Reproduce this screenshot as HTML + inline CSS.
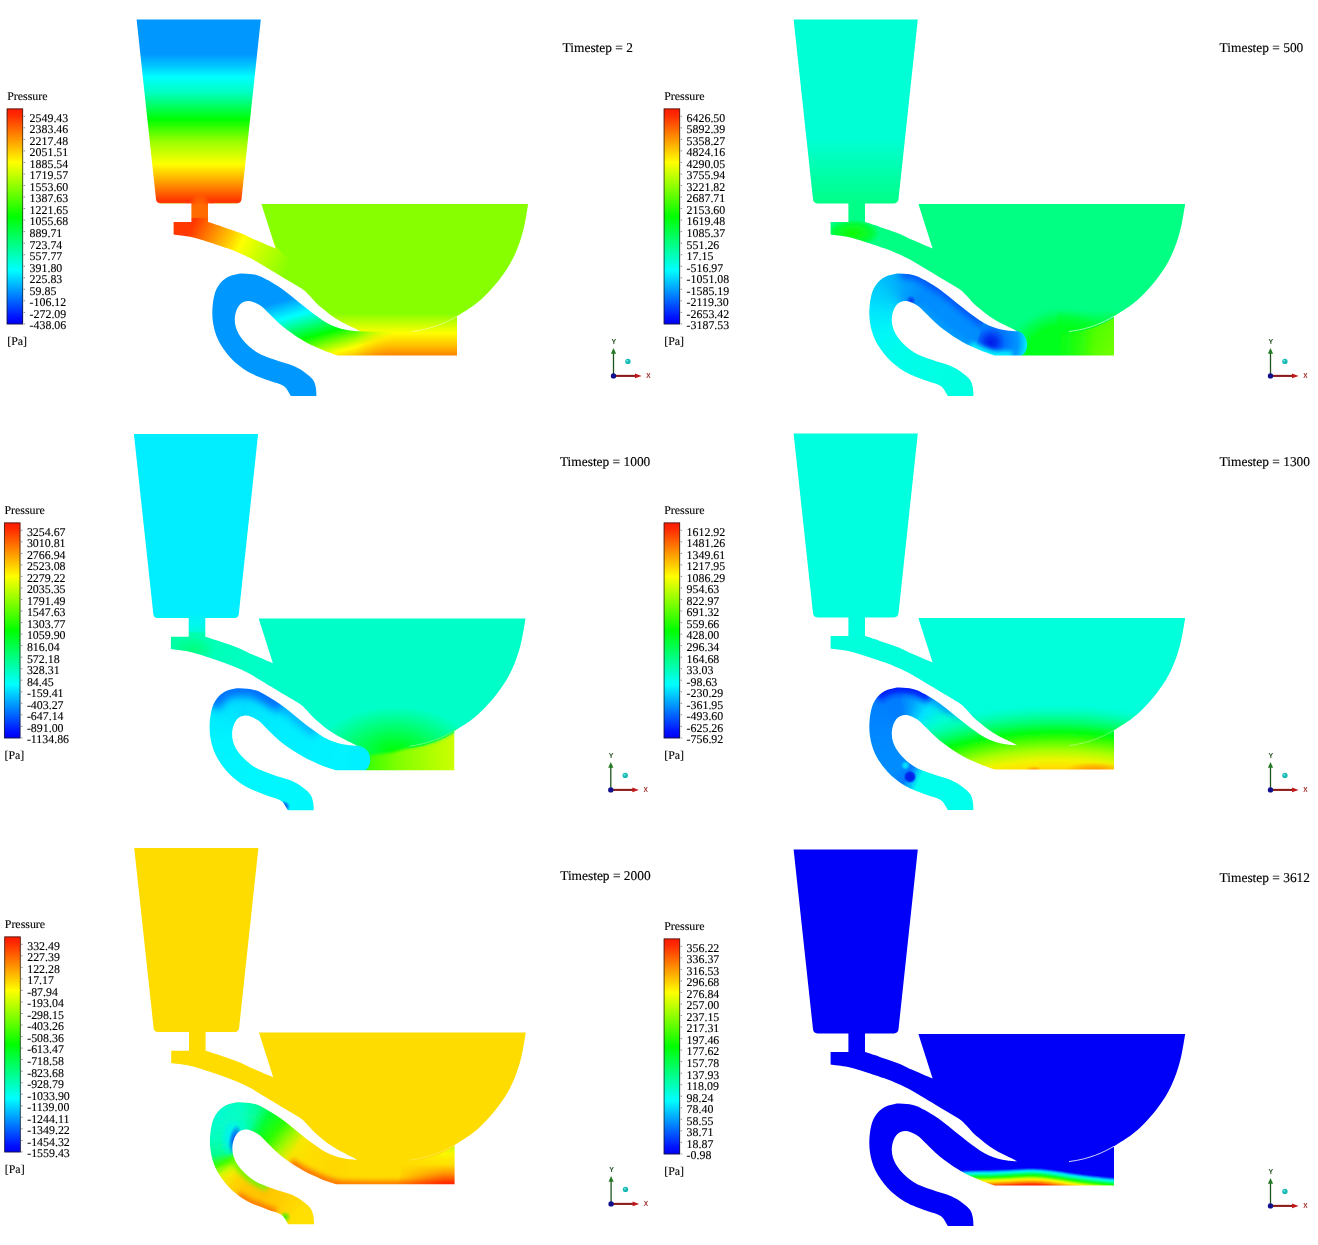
<!DOCTYPE html>
<html lang="en"><head><meta charset="utf-8"><title>Pressure contours at six timesteps</title>
<style>html,body{margin:0;padding:0;background:#fff}svg{display:block}.lg{font-family:"Liberation Serif","DejaVu Serif",serif;font-size:11.9px;fill:#000;stroke:#000;stroke-width:.12px;text-rendering:geometricPrecision}.ts{font-family:"Liberation Serif","DejaVu Serif",serif;font-size:13.4px;fill:#000;stroke:#000;stroke-width:.15px;text-rendering:geometricPrecision}.ax{font-family:"Liberation Sans","DejaVu Sans",sans-serif;font-size:6.5px;font-weight:bold;text-anchor:middle}</style></head><body>
<svg width="1318" height="1245" viewBox="0 0 1318 1245">
<defs>
<clipPath id="shape"><path d="M136.6,19.5L260.8,19.5L241.5,199.3Q241,203.4 237,203.4L208,203.4L208,222.1C210.5,222.9 217.3,225 222.8,226.9C228.3,228.8 235.7,231.2 241,233.3C246.3,235.4 248.8,237.1 254.6,239.6C260.4,242.1 272.1,247.1 275.6,248.6L261.4,204L528.2,204C527.4,208.4 525.5,222 523.2,230.6C520.9,239.2 518.2,247.4 514.4,255.4C510.6,263.4 506.1,270.8 500.2,278.4C494.3,286 486.2,295 479,301.3C471.8,307.6 460.7,313.8 457,316.3L457,355.6L338.5,355.6C337.6,355.3 335.3,354.7 332.9,353.9C330.4,353.1 326.9,351.8 323.8,350.6C320.8,349.4 317.7,347.9 314.6,346.5C311.6,345.1 308.5,343.6 305.5,341.9C302.5,340.2 299.4,338.4 296.4,336.4C293.4,334.4 290.3,332.4 287.3,330.1C284.3,327.8 281.2,325.3 278.2,322.6C275.2,319.9 272.4,316.7 269.3,313.8C266.2,310.9 263,307.1 259.5,305C256,302.9 251.7,301 248.4,301C245.1,301 241.7,302.5 239.5,304.9C237.3,307.3 235.7,311.7 235.1,315.5C234.5,319.3 234.7,323.7 236,327.8C237.3,331.9 239.6,336.1 243.1,340.2C246.6,344.3 251.9,349.1 257.2,352.4C262.5,355.7 268.7,357.5 274.9,359.8C281.1,362.1 289.2,364 294.3,366.2C299.4,368.4 302.4,370.7 305.5,372.9C308.6,375.1 311.1,377.2 312.8,379.6C314.5,382 315.1,384.3 315.7,387C316.3,389.7 316.4,394.4 316.5,395.9L290.8,395.9C289.6,394.3 287.2,388.6 283.7,386.1C280.2,383.6 275.5,383.2 269.6,380.8C263.7,378.4 254.9,375.8 248.4,372C241.9,368.2 235.7,363.2 230.7,357.9C225.7,352.6 221.2,346.1 218.3,340.2C215.4,334.3 213.9,328.4 213,322.5C212.1,316.6 212.1,310.5 212.7,304.9C213.3,299.3 214.4,293.4 216.5,289C218.6,284.6 221.8,280.9 225.4,278.4C229,275.9 233.7,274.6 237.8,273.9C241.9,273.2 246.4,273.8 250,274.1C253.6,274.4 256.1,274.9 259.1,275.9C262.1,276.9 265.2,278.6 268.2,280.3C271.2,282 274.3,283.8 277.3,285.8C280.3,287.8 283.4,289.9 286.4,292.2C289.4,294.5 292.5,297 295.5,299.4C298.5,301.8 301.6,304.4 304.6,306.8C307.7,309.2 310.8,311.7 313.8,314C316.9,316.3 319.9,318.5 322.9,320.4C325.9,322.3 329,324 332,325.4C335,326.8 338.1,327.8 341.1,328.7C344.1,329.6 347,330.1 350.2,330.5C353.4,330.9 358.8,331.2 360.5,331.4C358.8,330.5 353.4,327.9 350.2,326.3C347,324.7 344.1,323.4 341.1,321.7C338.1,320 335,318.1 332,316C329,313.9 325.6,311.1 322.9,308.8C320.2,306.5 317.9,304.6 315.6,302.4C313.3,300.1 311.5,297.6 309.2,295.3C306.9,293 305.7,291.4 301.9,288.8C298.1,286.2 292,283 286.4,279.6C280.8,276.2 272.8,271.4 268.2,268.6C263.6,265.9 262,264.9 259,263.1C256,261.3 253.4,259.7 250,258C246.6,256.3 242.3,254.3 238.5,252.7C234.7,251.1 232.4,250.1 227.4,248.3C222.4,246.5 214.4,243.8 208.3,241.9C202.2,240 196.8,238.2 191,236.9C185.2,235.7 176.5,234.8 173.6,234.4L173.6,222.1L191.4,222.1L191.4,203.4L160.4,203.4Q156.4,203.4 156,199.3Z"/></clipPath>
<clipPath id="trapclip"><path d="M150,262L240,263L266,273.4L290,288.4L310,303.5L330,319.4L345,326.7L360.5,331.4L380,332L380,400L150,400Z"/></clipPath>
<linearGradient id="bar" x1="0" y1="0" x2="0" y2="1"><stop offset="0" stop-color="#ff1a00"/><stop offset="0.03" stop-color="#ff2a00"/><stop offset="0.25" stop-color="#ffff00"/><stop offset="0.5" stop-color="#00ff00"/><stop offset="0.75" stop-color="#00ffff"/><stop offset="0.97" stop-color="#0010ff"/><stop offset="1" stop-color="#0000f0"/></linearGradient>
<filter id="soft" x="-5%" y="-5%" width="110%" height="110%"><feGaussianBlur stdDeviation="0.45"/></filter>
<linearGradient id="p1t" gradientUnits="userSpaceOnUse" x1="0" y1="19" x2="0" y2="204"><stop offset="0" stop-color="#0098ff"/><stop offset="0.19" stop-color="#0098ff"/><stop offset="0.255" stop-color="#00c8ff"/><stop offset="0.315" stop-color="#00ffff"/><stop offset="0.4" stop-color="#00ffbe"/><stop offset="0.545" stop-color="#00ff00"/><stop offset="0.66" stop-color="#96ff00"/><stop offset="0.785" stop-color="#ffff00"/><stop offset="0.89" stop-color="#ff9600"/><stop offset="0.985" stop-color="#ff3200"/><stop offset="1" stop-color="#ff4600"/></linearGradient>
<radialGradient id="p1st" gradientUnits="userSpaceOnUse" cx="200" cy="205" r="11"><stop offset="0" stop-color="#ff6c00" stop-opacity="1.0"/><stop offset="0.6" stop-color="#ff6c00" stop-opacity="0.55"/><stop offset="1" stop-color="#ff6c00" stop-opacity="0"/></radialGradient>
<linearGradient id="p1f" gradientUnits="userSpaceOnUse" x1="190" y1="230" x2="282.7" y2="276.4"><stop offset="0" stop-color="#ff3700"/><stop offset="0.24" stop-color="#ff9600"/><stop offset="0.374" stop-color="#ffc800"/><stop offset="0.5" stop-color="#ffff00"/><stop offset="0.7" stop-color="#c8ff00"/><stop offset="1" stop-color="#88ff00"/></linearGradient>
<linearGradient id="p1s" gradientUnits="userSpaceOnUse" x1="0" y1="306" x2="0" y2="356"><stop offset="0" stop-color="#88ff00" stop-opacity="0"/><stop offset="0.15" stop-color="#88ff00" stop-opacity="1"/><stop offset="0.54" stop-color="#ffff00"/><stop offset="0.8" stop-color="#ffbe00"/><stop offset="1" stop-color="#ff8000"/></linearGradient>
<linearGradient id="p1g" gradientUnits="userSpaceOnUse" x1="286.5" y1="300" x2="307.7" y2="375.8"><stop offset="0" stop-color="#0098ff"/><stop offset="0.219" stop-color="#00ffff"/><stop offset="0.537" stop-color="#00ff00"/><stop offset="0.81" stop-color="#ffff00"/><stop offset="1" stop-color="#ff9600"/></linearGradient>
<linearGradient id="p1kg" gradientUnits="userSpaceOnUse" x1="356" y1="0" x2="396" y2="0"><stop offset="0" stop-color="#fff" stop-opacity="1"/><stop offset="1" stop-color="#fff" stop-opacity="0"/></linearGradient>
<mask id="p1k" maskUnits="userSpaceOnUse" x="100" y="0" width="460" height="410"><rect x="100" y="0" width="460" height="410" fill="url(#p1kg)"/></mask>
<linearGradient id="p2t" gradientUnits="userSpaceOnUse" x1="0" y1="19" x2="0" y2="204"><stop offset="0" stop-color="#00ffd5"/><stop offset="0.64" stop-color="#00ffd5"/><stop offset="0.85" stop-color="#00ffa5"/><stop offset="1" stop-color="#00ff87"/></linearGradient>
<radialGradient id="p2fl" gradientUnits="userSpaceOnUse" cx="196" cy="233" r="27" gradientTransform="translate(196 233) rotate(0) scale(1.0 0.5) translate(-196 -233)"><stop offset="0" stop-color="#0afa00" stop-opacity="1.0"/><stop offset="0.7" stop-color="#0afa00" stop-opacity="0.55"/><stop offset="1" stop-color="#0afa00" stop-opacity="0"/></radialGradient>
<radialGradient id="p2s" gradientUnits="userSpaceOnUse" cx="404" cy="356" r="56" gradientTransform="translate(404 356) scale(1.05 0.9) translate(-404 -356)"><stop offset="0" stop-color="#00ff1c" stop-opacity="1"/><stop offset="0.6" stop-color="#00ff1e" stop-opacity="1"/><stop offset="0.8" stop-color="#00ff3c" stop-opacity="0.6"/><stop offset="1" stop-color="#00ff82" stop-opacity="0"/></radialGradient>
<linearGradient id="p2s2" gradientUnits="userSpaceOnUse" x1="0" y1="310" x2="0" y2="330"><stop offset="0" stop-color="#00ff1e" stop-opacity="0"/><stop offset="1" stop-color="#00ff1e" stop-opacity="1"/></linearGradient>
<linearGradient id="p2pm" gradientUnits="userSpaceOnUse" x1="398" y1="0" x2="438" y2="0"><stop offset="0" stop-color="#fff" stop-opacity="0"/><stop offset="1" stop-color="#fff" stop-opacity="1"/></linearGradient>
<mask id="p2pk2" maskUnits="userSpaceOnUse" x="390" y="300" width="80" height="70"><rect x="390" y="300" width="80" height="70" fill="url(#p2pm)"/></mask>
<linearGradient id="p2pk" gradientUnits="userSpaceOnUse" x1="405" y1="330" x2="457" y2="356"><stop offset="0" stop-color="#28ff00"/><stop offset="1" stop-color="#73ff00"/></linearGradient>
<filter id="p2ga" filterUnits="userSpaceOnUse" x="223.8" y="253.7" width="123.9" height="89.5"><feGaussianBlur stdDeviation="3.4"/></filter>
<filter id="p2gb" filterUnits="userSpaceOnUse" x="245" y="289.9" width="91.6" height="75.7"><feGaussianBlur stdDeviation="3"/></filter>
<radialGradient id="p2c" gradientUnits="userSpaceOnUse" cx="334" cy="342.5" r="36"><stop offset="0" stop-color="#0019e6"/><stop offset="0.16" stop-color="#0032f0"/><stop offset="0.4" stop-color="#0073ff"/><stop offset="0.75" stop-color="#0096ff"/><stop offset="0.9" stop-color="#00c8ff"/><stop offset="1" stop-color="#00f0fa"/></radialGradient>
<filter id="p2gf" filterUnits="userSpaceOnUse" x="296.9" y="329.7" width="74.4" height="42"><feGaussianBlur stdDeviation="2.2"/></filter>
<radialGradient id="p2d2" gradientUnits="userSpaceOnUse" cx="254" cy="300.5" r="5"><stop offset="0" stop-color="#0028eb" stop-opacity="0.9"/><stop offset="0.5" stop-color="#0028eb" stop-opacity="0.49500000000000005"/><stop offset="1" stop-color="#0028eb" stop-opacity="0"/></radialGradient>
<linearGradient id="p3t" gradientUnits="userSpaceOnUse" x1="0" y1="19" x2="0" y2="222"><stop offset="0" stop-color="#00eeff"/><stop offset="0.88" stop-color="#00eeff"/><stop offset="0.95" stop-color="#00f8e8"/><stop offset="1" stop-color="#00ffc3"/></linearGradient>
<linearGradient id="p3f" gradientUnits="userSpaceOnUse" x1="175" y1="228" x2="262" y2="262"><stop offset="0" stop-color="#00ffa5"/><stop offset="0.5" stop-color="#00ffb9"/><stop offset="1" stop-color="#00ffc8"/></linearGradient>
<radialGradient id="p3fl" gradientUnits="userSpaceOnUse" cx="196" cy="234" r="17" gradientTransform="translate(196 234) rotate(0) scale(1.3 0.7) translate(-196 -234)"><stop offset="0" stop-color="#00ff6e" stop-opacity="0.75"/><stop offset="0.5" stop-color="#00ff6e" stop-opacity="0.41250000000000003"/><stop offset="1" stop-color="#00ff6e" stop-opacity="0"/></radialGradient>
<radialGradient id="p3g1" gradientUnits="userSpaceOnUse" cx="398" cy="337" r="66" gradientTransform="translate(398 337) rotate(0) scale(1.2 0.68) translate(-398 -337)"><stop offset="0" stop-color="#00ff00" stop-opacity="1.0"/><stop offset="0.45" stop-color="#00ff00" stop-opacity="0.55"/><stop offset="1" stop-color="#00ff00" stop-opacity="0"/></radialGradient>
<linearGradient id="p3s" gradientUnits="userSpaceOnUse" x1="372" y1="0" x2="457" y2="0"><stop offset="0" stop-color="#3cff00"/><stop offset="0.35" stop-color="#82ff00"/><stop offset="1" stop-color="#cdff00"/></linearGradient>
<filter id="p3sf" x="-10%" y="-30%" width="120%" height="160%"><feGaussianBlur stdDeviation="1.6"/></filter>
<filter id="p3gc" filterUnits="userSpaceOnUse" x="237.2" y="252.5" width="106.2" height="89.7"><feGaussianBlur stdDeviation="4.5"/></filter>
<filter id="p3ga" filterUnits="userSpaceOnUse" x="185.1" y="243.5" width="128.9" height="78.8"><feGaussianBlur stdDeviation="4.4"/></filter>
<radialGradient id="p3d1" gradientUnits="userSpaceOnUse" cx="287" cy="392" r="6"><stop offset="0" stop-color="#0028eb" stop-opacity="1.0"/><stop offset="0.5" stop-color="#0028eb" stop-opacity="0.55"/><stop offset="1" stop-color="#0028eb" stop-opacity="0"/></radialGradient>
<filter id="p4gc" filterUnits="userSpaceOnUse" x="243.3" y="258.6" width="83.4" height="69.5"><feGaussianBlur stdDeviation="3.2"/></filter>
<filter id="p4ga" filterUnits="userSpaceOnUse" x="198.4" y="251.7" width="96.5" height="53.3"><feGaussianBlur stdDeviation="3.4"/></filter>
<radialGradient id="p4b" gradientUnits="userSpaceOnUse" cx="400" cy="500" r="215" gradientTransform="translate(400 500) scale(1.5 1) translate(-400 -500)"><stop offset="0" stop-color="#ffc300"/><stop offset="0.66" stop-color="#ffc300"/><stop offset="0.685" stop-color="#ffe100"/><stop offset="0.715" stop-color="#f0f500"/><stop offset="0.76" stop-color="#aaff00"/><stop offset="0.805" stop-color="#50ff00"/><stop offset="0.845" stop-color="#00ff0a"/><stop offset="0.885" stop-color="#00ff64"/><stop offset="0.93" stop-color="#00ffaf"/><stop offset="0.975" stop-color="#00ffda" stop-opacity="0.5"/><stop offset="1" stop-color="#00ffda" stop-opacity="0"/></radialGradient>
<radialGradient id="p4o1" gradientUnits="userSpaceOnUse" cx="438" cy="357" r="32" gradientTransform="translate(438 357) rotate(0) scale(1.0 0.28) translate(-438 -357)"><stop offset="0" stop-color="#ff8c00" stop-opacity="1.0"/><stop offset="0.5" stop-color="#ff8c00" stop-opacity="0.55"/><stop offset="1" stop-color="#ff8c00" stop-opacity="0"/></radialGradient>
<radialGradient id="p4o2" gradientUnits="userSpaceOnUse" cx="377" cy="357" r="9" gradientTransform="translate(377 357) rotate(0) scale(1.0 0.55) translate(-377 -357)"><stop offset="0" stop-color="#ff8200" stop-opacity="1.0"/><stop offset="0.5" stop-color="#ff8200" stop-opacity="0.55"/><stop offset="1" stop-color="#ff8200" stop-opacity="0"/></radialGradient>
<radialGradient id="p4d1" gradientUnits="userSpaceOnUse" cx="253" cy="362.8" r="6.6"><stop offset="0" stop-color="#001ee8" stop-opacity="1"/><stop offset="0.62" stop-color="#0028ee" stop-opacity="1"/><stop offset="1" stop-color="#003cf5" stop-opacity="0"/></radialGradient>
<radialGradient id="p4d2" gradientUnits="userSpaceOnUse" cx="248.5" cy="351.4" r="4.6"><stop offset="0" stop-color="#00eeff" stop-opacity="1.0"/><stop offset="0.6" stop-color="#00eeff" stop-opacity="0.55"/><stop offset="1" stop-color="#00eeff" stop-opacity="0"/></radialGradient>
<filter id="p5gb" filterUnits="userSpaceOnUse" x="274.8" y="316" width="205.2" height="58.9"><feGaussianBlur stdDeviation="2.8"/></filter>
<linearGradient id="p5pk" gradientUnits="userSpaceOnUse" x1="0" y1="316" x2="0" y2="356"><stop offset="0" stop-color="#b9ff00"/><stop offset="0.22" stop-color="#faf800"/><stop offset="0.5" stop-color="#ffde00"/><stop offset="0.72" stop-color="#ff9600"/><stop offset="0.95" stop-color="#ff2d00"/><stop offset="1" stop-color="#ff2800"/></linearGradient>
<linearGradient id="p5pm" gradientUnits="userSpaceOnUse" x1="398" y1="0" x2="446" y2="0"><stop offset="0" stop-color="#fff" stop-opacity="0"/><stop offset="1" stop-color="#fff" stop-opacity="1"/></linearGradient>
<mask id="p5pk2" maskUnits="userSpaceOnUse" x="390" y="300" width="80" height="70"><rect x="390" y="300" width="80" height="70" fill="url(#p5pm)"/></mask>
<filter id="p5ga" filterUnits="userSpaceOnUse" x="223.3" y="349.5" width="71.8" height="51"><feGaussianBlur stdDeviation="2.8"/></filter>
<filter id="p5gi" filterUnits="userSpaceOnUse" x="219.3" y="311.7" width="68.2" height="63.5"><feGaussianBlur stdDeviation="2.8"/></filter>
<radialGradient id="p5b0" gradientUnits="userSpaceOnUse" cx="234" cy="309" r="15" gradientTransform="translate(234 309) rotate(8) scale(0.75 1.35) translate(-234 -309)"><stop offset="0" stop-color="#00eeff" stop-opacity="0.95"/><stop offset="0.5" stop-color="#00eeff" stop-opacity="0.5225"/><stop offset="1" stop-color="#00eeff" stop-opacity="0"/></radialGradient>
<radialGradient id="p5b1" gradientUnits="userSpaceOnUse" cx="237.2" cy="311" r="10.5" gradientTransform="translate(237.2 311) rotate(10) scale(0.6 1.45) translate(-237.2 -311)"><stop offset="0" stop-color="#0046f0" stop-opacity="1.0"/><stop offset="0.55" stop-color="#0046f0" stop-opacity="0.55"/><stop offset="1" stop-color="#0046f0" stop-opacity="0"/></radialGradient>
<radialGradient id="p5g2" gradientUnits="userSpaceOnUse" cx="287.5" cy="388.5" r="6"><stop offset="0" stop-color="#46ee00" stop-opacity="1.0"/><stop offset="0.5" stop-color="#46ee00" stop-opacity="0.55"/><stop offset="1" stop-color="#46ee00" stop-opacity="0"/></radialGradient>
<filter id="p6bf" x="-5%" y="-40%" width="110%" height="180%"><feGaussianBlur stdDeviation="0.7"/></filter>
</defs>
<rect width="1318" height="1245" fill="#fff"/>
<g transform="translate(0,0)">
<g filter="url(#soft)"><g clip-path="url(#shape)">
<g opacity="0.999">
<rect x="100" y="0" width="460" height="410" fill="#88ff00"/>
<path d="M130,10L270,10L270,203.6L214,203.6L214,223L186,223L186,203.6L130,203.6Z" fill="url(#p1t)"/>
<rect x="186" y="204.5" width="28" height="18" fill="#ff6a00"/>
<rect x="188" y="193" width="24" height="24" fill="url(#p1st)"/>
<path d="M168,218L263,218L277,248L300,270L314,292L308,302L290,289L259,270L218,250L168,240Z" fill="url(#p1f)"/>
<path d="M150,262L240,263L266,273.4L290,288.4L310,303.5L330,319.4L345,326.7L360.5,331.4L360.5,400L150,400Z" fill="#0098ff"/>
<path d="M300,300L460,300L460,358L347,358L347,327.5L330,319.4L310,303.5L306,300Z" fill="url(#p1s)"/>
<g mask="url(#p1k)"><path d="M240,263L266,273.4L290,288.4L310,303.5L330,319.4L345,326.7L360.5,331.4L400,332L400,362L335,361L300,353L270,336L240,310L225,300Z" fill="url(#p1g)"/></g>
<path d="M457,316.3C447,322 433,329 412,331.6" fill="none" stroke="#fff" stroke-width="1" opacity="0.45"/>
</g></g></g>
<g opacity="0.999">
<text x="7.2" y="99.8" class="lg">Pressure</text>
<rect x="6.8" y="108.6" width="16.2" height="215.6" fill="url(#bar)"/>
<rect x="7.1" y="108.9" width="15.6" height="215.1" fill="none" stroke="#1c1c1c" stroke-width="0.9" opacity="0.8"/>
<text x="29.6" y="121.6" class="lg">2549.43</text>
<text x="29.6" y="133.1" class="lg">2383.46</text>
<text x="29.6" y="144.7" class="lg">2217.48</text>
<text x="29.6" y="156.2" class="lg">2051.51</text>
<text x="29.6" y="167.7" class="lg">1885.54</text>
<text x="29.6" y="179.3" class="lg">1719.57</text>
<text x="29.6" y="190.8" class="lg">1553.60</text>
<text x="29.6" y="202.3" class="lg">1387.63</text>
<text x="29.6" y="213.9" class="lg">1221.65</text>
<text x="29.6" y="225.4" class="lg">1055.68</text>
<text x="29.6" y="236.9" class="lg">889.71</text>
<text x="29.6" y="248.5" class="lg">723.74</text>
<text x="29.6" y="260" class="lg">557.77</text>
<text x="29.6" y="271.5" class="lg">391.80</text>
<text x="29.6" y="283.1" class="lg">225.83</text>
<text x="29.6" y="294.6" class="lg">59.85</text>
<text x="29.6" y="306.1" class="lg">-106.12</text>
<text x="29.6" y="317.7" class="lg">-272.09</text>
<text x="29.6" y="329.2" class="lg">-438.06</text>
<path d="M23.6,116.3h1.5M23.6,127.8h1.5M23.6,139.4h1.5M23.6,150.9h1.5M23.6,162.4h1.5M23.6,174h1.5M23.6,185.5h1.5M23.6,197h1.5M23.6,208.6h1.5M23.6,220.1h1.5M23.6,231.6h1.5M23.6,243.2h1.5M23.6,254.7h1.5M23.6,266.2h1.5M23.6,277.8h1.5M23.6,289.3h1.5M23.6,300.8h1.5M23.6,312.4h1.5M23.6,323.9h1.5" stroke="#334" stroke-width="0.9" opacity="0.6"/>
<text x="7.2" y="345.4" class="lg">[Pa]</text>
<text x="562.6" y="52.3" class="ts">Timestep = 2</text>
<g><path d="M613.5,375.9V352" stroke="#1c551c" stroke-width="1.3"/><path d="M613.5,348l2.6,5.8h-5.2z" fill="#257a25"/><path d="M613.5,375.9H636" stroke="#8c1c1c" stroke-width="2.1"/><path d="M641.6,375.9l-6.6,-2.4v4.8z" fill="#c01818"/><circle cx="613.5" cy="375.9" r="2.7" fill="#10108c"/><circle cx="627.9" cy="361.4" r="2.7" fill="#19b9b4"/><circle cx="627.2" cy="360.7" r="1" fill="#6fe6e0"/><text x="613.9" y="343.8" class="ax" fill="#2a552a" style="font-size:7px">Y</text><text x="648.3" y="378.2" class="ax" fill="#a03030">X</text></g>
</g>
</g>
<g transform="translate(657,0)">
<g filter="url(#soft)"><g clip-path="url(#shape)">
<g opacity="0.999">
<rect x="100" y="0" width="460" height="410" fill="#00ff82"/>
<path d="M130,10L270,10L270,203.6L214,203.6L214,223L186,223L186,203.6L130,203.6Z" fill="url(#p2t)"/>
<rect x="168" y="205" width="56" height="56" fill="url(#p2fl)"/>
<rect x="340" y="295" width="130" height="65" fill="url(#p2s)"/>
<rect x="400" y="310" width="60" height="48" fill="url(#p2s2)"/>
<g mask="url(#p2pk2)"><path d="M400,334.5L412,333.5C433,331 447,324 459,316.5L462,362L400,362Z" fill="url(#p2pk)"/></g>
<path d="M360.5,331.4L357.9,355.6L360.5,355.6ZM246.3,273.8L243.7,273.6L247.3,301.1Z" fill="#00a0ff" stroke="#00a0ff" stroke-width="0.7"/>
<path d="M360.5,331.4L357.9,331.2L357.9,355.6ZM251.5,274.3L247.3,301.1L249.9,301.1Z" fill="#009cff" stroke="#009cff" stroke-width="0.7"/>
<path d="M357.9,331.2L355.3,355.6L357.9,355.6ZM256.6,275.2L254.1,274.6L249.9,301.1Z" fill="#0099ff" stroke="#0099ff" stroke-width="0.7"/>
<path d="M357.9,331.2L355.3,331L355.3,355.6ZM261.6,276.9L259.1,275.9L252.4,301.7Z" fill="#0095ff" stroke="#0095ff" stroke-width="0.7"/>
<path d="M355.3,331L352.7,355.6L355.3,355.6ZM263.9,278L252.4,301.7L254.9,302.6Z" fill="#0092ff" stroke="#0092ff" stroke-width="0.7"/>
<path d="M355.3,331L352.7,330.8L352.7,355.6ZM310.5,311.5L308.5,309.9L292.7,334ZM308.5,309.9L290.6,332.5L292.7,334ZM308.5,309.9L306.4,308.3L290.6,332.5ZM306.4,308.3L288.5,331L290.6,332.5ZM306.4,308.3L304.4,306.6L288.5,331ZM304.4,306.6L286.4,329.4L288.5,331ZM304.4,306.6L284.4,327.8L286.4,329.4ZM304.4,306.6L302.4,305L284.4,327.8ZM302.4,305L282.3,326.2L284.4,327.8ZM294.3,298.4L274.7,319.2L276.5,321ZM294.3,298.4L292.2,296.8L274.7,319.2ZM292.2,296.8L272.8,317.3L274.7,319.2ZM292.2,296.8L290.2,295.1L272.8,317.3ZM268.5,280.5L254.9,302.6L257.2,303.7Z" fill="#008eff" stroke="#008eff" stroke-width="0.7"/>
<path d="M352.7,330.8L350.1,355.6L352.7,355.6ZM325.5,322L323.3,320.6L310.6,344.6ZM281.8,288.9L279.6,287.4L263.6,308.2ZM279.6,287.4L277.5,285.9L263.6,308.2ZM277.5,285.9L261.6,306.5L263.6,308.2ZM277.5,285.9L275.3,284.5L261.6,306.5ZM270.8,281.8L257.2,303.7L259.5,305Z" fill="#008bff" stroke="#008bff" stroke-width="0.7"/>
<path d="M352.7,330.8L350.1,330.5L350.1,355.6Z" fill="#0087ff" stroke="#0087ff" stroke-width="0.7"/>
<path d="M350.1,330.5L347.5,355.6L350.1,355.6Z" fill="#0086ff" stroke="#0086ff" stroke-width="0.7"/>
<path d="M350.1,330.5L347.5,330.1L347.5,355.6ZM330.1,324.5L327.8,323.3L317.7,347.9Z" fill="#0084fe" stroke="#0084fe" stroke-width="0.7"/>
<path d="M347.5,330.1L344.9,355.6L347.5,355.6ZM330.1,324.5L317.7,347.9L320,349Z" fill="#0083fe" stroke="#0083fe" stroke-width="0.7"/>
<path d="M347.5,330.1L344.9,329.6L344.9,355.6Z" fill="#0082fe" stroke="#0082fe" stroke-width="0.7"/>
<path d="M344.9,329.6L342.3,355.6L344.9,355.6Z" fill="#0081fe" stroke="#0081fe" stroke-width="0.7"/>
<path d="M344.9,329.6L339.7,355.6L342.3,355.6Z" fill="#007ffd" stroke="#007ffd" stroke-width="0.7"/>
<path d="M344.9,329.6L342.4,329L339.7,355.6ZM334.9,326.6L332.5,325.6L324.8,351Z" fill="#007efd" stroke="#007efd" stroke-width="0.7"/>
<path d="M342.4,329L337.1,355.2L339.7,355.6ZM334.9,326.6L324.8,351L327.3,351.9Z" fill="#007dfd" stroke="#007dfd" stroke-width="0.7"/>
<path d="M342.4,329L334.7,354.5L337.1,355.2ZM337.4,327.5L334.9,326.6L327.3,351.9Z" fill="#007cfd" stroke="#007cfd" stroke-width="0.7"/>
<path d="M342.4,329L332.2,353.7L334.7,354.5Z" fill="#007bfd" stroke="#007bfd" stroke-width="0.7"/>
<path d="M342.4,329L339.9,328.3L332.2,353.7ZM339.9,328.3L337.4,327.5L329.7,352.8Z" fill="#0079fc" stroke="#0079fc" stroke-width="0.7"/>
<path d="M339.9,328.3L329.7,352.8L332.2,353.7Z" fill="#0078fc" stroke="#0078fc" stroke-width="0.7"/>
<path d="M337.4,327.5L327.3,351.9L329.7,352.8Z" fill="#007bfc" stroke="#007bfc" stroke-width="0.7"/>
<path d="M332.5,325.6L322.4,350L324.8,351Z" fill="#0080fd" stroke="#0080fd" stroke-width="0.7"/>
<path d="M332.5,325.6L320,349L322.4,350Z" fill="#0081fd" stroke="#0081fd" stroke-width="0.7"/>
<path d="M332.5,325.6L330.1,324.5L320,349Z" fill="#0082fd" stroke="#0082fd" stroke-width="0.7"/>
<path d="M327.8,323.3L315.3,346.8L317.7,347.9Z" fill="#0086fe" stroke="#0086fe" stroke-width="0.7"/>
<path d="M327.8,323.3L325.5,322L315.3,346.8Z" fill="#0087fe" stroke="#0087fe" stroke-width="0.7"/>
<path d="M325.5,322L313,345.7L315.3,346.8Z" fill="#0088fe" stroke="#0088fe" stroke-width="0.7"/>
<path d="M325.5,322L310.6,344.6L313,345.7Z" fill="#0089ff" stroke="#0089ff" stroke-width="0.7"/>
<path d="M323.3,320.6L308.3,343.4L310.6,344.6ZM323.3,320.6L321.1,319.2L308.3,343.4ZM321.1,319.2L306,342.2L308.3,343.4ZM321.1,319.2L318.9,317.8L306,342.2ZM318.9,317.8L303.7,340.9L306,342.2ZM286,291.9L267.3,311.8L269.1,313.6ZM286,291.9L283.9,290.4L267.3,311.8ZM283.9,290.4L265.4,310L267.3,311.8ZM283.9,290.4L281.8,288.9L265.4,310ZM281.8,288.9L263.6,308.2L265.4,310Z" fill="#008cff" stroke="#008cff" stroke-width="0.7"/>
<path d="M318.9,317.8L316.8,316.2L303.7,340.9ZM316.8,316.2L301.5,339.6L303.7,340.9ZM316.8,316.2L299.3,338.2L301.5,339.6ZM316.8,316.2L314.7,314.7L299.3,338.2ZM314.7,314.7L297.1,336.8L299.3,338.2ZM314.7,314.7L312.6,313.1L297.1,336.8ZM312.6,313.1L294.9,335.4L297.1,336.8ZM312.6,313.1L310.5,311.5L294.9,335.4ZM310.5,311.5L292.7,334L294.9,335.4ZM290.2,295.1L271,315.5L272.8,317.3ZM290.2,295.1L288.1,293.5L271,315.5ZM288.1,293.5L269.1,313.6L271,315.5ZM288.1,293.5L286,291.9L269.1,313.6ZM270.8,281.8L268.5,280.5L257.2,303.7Z" fill="#008dff" stroke="#008dff" stroke-width="0.7"/>
<path d="M302.4,305L300.3,303.3L282.3,326.2ZM300.3,303.3L280.3,324.5L282.3,326.2ZM300.3,303.3L298.3,301.7L280.3,324.5ZM298.3,301.7L278.4,322.8L280.3,324.5ZM298.3,301.7L296.3,300L278.4,322.8ZM296.3,300L276.5,321L278.4,322.8ZM296.3,300L294.3,298.4L276.5,321ZM268.5,280.5L266.2,279.2L254.9,302.6Z" fill="#008fff" stroke="#008fff" stroke-width="0.7"/>
<path d="M275.3,284.5L259.5,305L261.6,306.5ZM275.3,284.5L273.1,283.1L259.5,305ZM273.1,283.1L270.8,281.8L259.5,305Z" fill="#008aff" stroke="#008aff" stroke-width="0.7"/>
<path d="M266.2,279.2L263.9,278L254.9,302.6Z" fill="#0091ff" stroke="#0091ff" stroke-width="0.7"/>
<path d="M263.9,278L261.6,276.9L252.4,301.7Z" fill="#0094ff" stroke="#0094ff" stroke-width="0.7"/>
<path d="M259.1,275.9L249.9,301.1L252.4,301.7Z" fill="#0096ff" stroke="#0096ff" stroke-width="0.7"/>
<path d="M259.1,275.9L256.6,275.2L249.9,301.1Z" fill="#0098ff" stroke="#0098ff" stroke-width="0.7"/>
<path d="M254.1,274.6L251.5,274.3L249.9,301.1Z" fill="#009bff" stroke="#009bff" stroke-width="0.7"/>
<path d="M251.5,274.3L248.9,274L247.3,301.1Z" fill="#009dff" stroke="#009dff" stroke-width="0.7"/>
<path d="M248.9,274L246.3,273.8L247.3,301.1Z" fill="#009fff" stroke="#009fff" stroke-width="0.7"/>
<path d="M243.7,273.6L244.7,301.6L247.3,301.1Z" fill="#00a3ff" stroke="#00a3ff" stroke-width="0.7"/>
<path d="M243.7,273.6L241.1,273.6L244.7,301.6Z" fill="#00a6ff" stroke="#00a6ff" stroke-width="0.7"/>
<path d="M241.1,273.6L238.4,273.8L244.7,301.6Z" fill="#00a9ff" stroke="#00a9ff" stroke-width="0.7"/>
<path d="M238.4,273.8L235.9,274.3L244.7,301.6Z" fill="#00acff" stroke="#00acff" stroke-width="0.7"/>
<path d="M235.9,274.3L233.3,274.9L244.7,301.6Z" fill="#00afff" stroke="#00afff" stroke-width="0.7"/>
<path d="M233.3,274.9L242.4,302.6L244.7,301.6Z" fill="#00b2ff" stroke="#00b2ff" stroke-width="0.7"/>
<path d="M233.3,274.9L230.8,275.7L242.4,302.6Z" fill="#00b4ff" stroke="#00b4ff" stroke-width="0.7"/>
<path d="M230.8,275.7L228.4,276.7L242.4,302.6Z" fill="#00b7ff" stroke="#00b7ff" stroke-width="0.7"/>
<path d="M228.4,276.7L226.1,277.9L242.4,302.6Z" fill="#00baff" stroke="#00baff" stroke-width="0.7"/>
<path d="M226.1,277.9L224,279.5L242.4,302.6Z" fill="#00bdff" stroke="#00bdff" stroke-width="0.7"/>
<path d="M224,279.5L222.1,281.2L242.4,302.6Z" fill="#00c0ff" stroke="#00c0ff" stroke-width="0.7"/>
<path d="M222.1,281.2L240.3,304.1L242.4,302.6Z" fill="#00c3ff" stroke="#00c3ff" stroke-width="0.7"/>
<path d="M222.1,281.2L220.3,283.1L240.3,304.1Z" fill="#00c6ff" stroke="#00c6ff" stroke-width="0.7"/>
<path d="M220.3,283.1L218.7,285.2L240.3,304.1Z" fill="#00c8ff" stroke="#00c8ff" stroke-width="0.7"/>
<path d="M218.7,285.2L217.3,287.4L240.3,304.1Z" fill="#00caff" stroke="#00caff" stroke-width="0.7"/>
<path d="M217.3,287.4L216.2,289.8L240.3,304.1Z" fill="#00ccff" stroke="#00ccff" stroke-width="0.7"/>
<path d="M216.2,289.8L238.6,306.1L240.3,304.1Z" fill="#00ceff" stroke="#00ceff" stroke-width="0.7"/>
<path d="M216.2,289.8L215.2,292.2L238.6,306.1Z" fill="#00d0ff" stroke="#00d0ff" stroke-width="0.7"/>
<path d="M215.2,292.2L214.5,294.7L238.6,306.1Z" fill="#00d2ff" stroke="#00d2ff" stroke-width="0.7"/>
<path d="M214.5,294.7L213.9,297.2L238.6,306.1Z" fill="#00d4ff" stroke="#00d4ff" stroke-width="0.7"/>
<path d="M213.9,297.2L237.3,308.4L238.6,306.1Z" fill="#00d6ff" stroke="#00d6ff" stroke-width="0.7"/>
<path d="M213.9,297.2L213.4,299.8L237.3,308.4Z" fill="#00d8ff" stroke="#00d8ff" stroke-width="0.7"/>
<path d="M213.4,299.8L213,302.4L237.3,308.4Z" fill="#00daff" stroke="#00daff" stroke-width="0.7"/>
<path d="M213,302.4L236.3,310.8L237.3,308.4Z" fill="#00dcff" stroke="#00dcff" stroke-width="0.7"/>
<path d="M213,302.4L212.7,305L236.3,310.8Z" fill="#00deff" stroke="#00deff" stroke-width="0.7"/>
<path d="M212.7,305L212.5,307.6L236.3,310.8Z" fill="#00e0ff" stroke="#00e0ff" stroke-width="0.7"/>
<path d="M212.5,307.6L235.5,313.3L236.3,310.8Z" fill="#00e2ff" stroke="#00e2ff" stroke-width="0.7"/>
<path d="M212.5,307.6L212.3,310.2L235.5,313.3Z" fill="#00e4ff" stroke="#00e4ff" stroke-width="0.7"/>
<path d="M212.3,310.2L212.3,312.8L235.5,313.3Z" fill="#00e5ff" stroke="#00e5ff" stroke-width="0.7"/>
<path d="M212.3,312.8L235.1,315.8L235.5,313.3Z" fill="#00e6fe" stroke="#00e6fe" stroke-width="0.7"/>
<path d="M212.3,312.8L212.3,315.4L235.1,315.8Z" fill="#00e7fe" stroke="#00e7fe" stroke-width="0.7"/>
<path d="M212.3,315.4L234.8,318.4L235.1,315.8Z" fill="#00e9fe" stroke="#00e9fe" stroke-width="0.7"/>
<path d="M212.3,315.4L212.5,318.1L234.8,318.4Z" fill="#00eafd" stroke="#00eafd" stroke-width="0.7"/>
<path d="M212.5,318.1L212.7,320.7L234.8,318.4Z" fill="#00ebfd" stroke="#00ebfd" stroke-width="0.7"/>
<path d="M212.7,320.7L234.8,321L234.8,318.4Z" fill="#00ecfd" stroke="#00ecfd" stroke-width="0.7"/>
<path d="M212.7,320.7L213.1,323.2L234.8,321Z" fill="#00edfc" stroke="#00edfc" stroke-width="0.7"/>
<path d="M213.1,323.2L213.6,325.8L234.8,321Z" fill="#00eefc" stroke="#00eefc" stroke-width="0.7"/>
<path d="M213.6,325.8L235,323.6L234.8,321Z" fill="#00effc" stroke="#00effc" stroke-width="0.7"/>
<path d="M213.6,325.8L214.1,328.4L235,323.6Z" fill="#00f0fb" stroke="#00f0fb" stroke-width="0.7"/>
<path d="M214.1,328.4L235.5,326.1L235,323.6Z" fill="#00f2fb" stroke="#00f2fb" stroke-width="0.7"/>
<path d="M214.1,328.4L214.8,330.9L235.5,326.1Z" fill="#00f3fb" stroke="#00f3fb" stroke-width="0.7"/>
<path d="M214.8,330.9L215.5,333.4L235.5,326.1Z" fill="#00f4fa" stroke="#00f4fa" stroke-width="0.7"/>
<path d="M215.5,333.4L236.3,328.6L235.5,326.1Z" fill="#00f5fa" stroke="#00f5fa" stroke-width="0.7"/>
<path d="M215.5,333.4L216.4,335.9L236.3,328.6Z" fill="#00f5f9" stroke="#00f5f9" stroke-width="0.7"/>
<path d="M216.4,335.9L217.4,338.3L236.3,328.6Z" fill="#00f6f9" stroke="#00f6f9" stroke-width="0.7"/>
<path d="M217.4,338.3L237.2,331.1L236.3,328.6Z" fill="#00f6f8" stroke="#00f6f8" stroke-width="0.7"/>
<path d="M217.4,338.3L218.5,340.7L237.2,331.1ZM218.5,340.7L238.4,333.4L237.2,331.1Z" fill="#00f7f7" stroke="#00f7f7" stroke-width="0.7"/>
<path d="M218.5,340.7L219.8,343L238.4,333.4Z" fill="#00f7f6" stroke="#00f7f6" stroke-width="0.7"/>
<path d="M219.8,343L221.1,345.2L238.4,333.4ZM221.1,345.2L239.7,335.6L238.4,333.4Z" fill="#00f8f5" stroke="#00f8f5" stroke-width="0.7"/>
<path d="M221.1,345.2L222.5,347.4L239.7,335.6Z" fill="#00f8f4" stroke="#00f8f4" stroke-width="0.7"/>
<path d="M222.5,347.4L241.2,337.8L239.7,335.6ZM222.5,347.4L224,349.6L241.2,337.8Z" fill="#00f9f3" stroke="#00f9f3" stroke-width="0.7"/>
<path d="M224,349.6L225.5,351.7L241.2,337.8Z" fill="#00faf2" stroke="#00faf2" stroke-width="0.7"/>
<path d="M225.5,351.7L242.8,339.8L241.2,337.8ZM225.5,351.7L227.1,353.8L242.8,339.8Z" fill="#00faf1" stroke="#00faf1" stroke-width="0.7"/>
<path d="M227.1,353.8L244.5,341.8L242.8,339.8Z" fill="#00fbf0" stroke="#00fbf0" stroke-width="0.7"/>
<path d="M227.1,353.8L228.8,355.8L244.5,341.8Z" fill="#00fbef" stroke="#00fbef" stroke-width="0.7"/>
<path d="M228.8,355.8L230.5,357.7L244.5,341.8Z" fill="#00fcef" stroke="#00fcef" stroke-width="0.7"/>
<path d="M230.5,357.7L246.3,343.6L244.5,341.8ZM230.5,357.7L232.4,359.6L246.3,343.6Z" fill="#00fcee" stroke="#00fcee" stroke-width="0.7"/>
<path d="M232.4,359.6L248.2,345.4L246.3,343.6ZM232.4,359.6L234.2,361.4L248.2,345.4ZM234.2,361.4L250.1,347.2L248.2,345.4ZM234.2,361.4L236.2,363.2L250.1,347.2Z" fill="#00fced" stroke="#00fced" stroke-width="0.7"/>
<path d="M236.2,363.2L238.2,364.8L250.1,347.2Z" fill="#00fcec" stroke="#00fcec" stroke-width="0.7"/>
<path d="M238.2,364.8L252.1,348.8L250.1,347.2ZM238.2,364.8L240.2,366.5L252.1,348.8ZM240.2,366.5L254.2,350.4L252.1,348.8Z" fill="#00fdec" stroke="#00fdec" stroke-width="0.7"/>
<path d="M240.2,366.5L242.3,368L254.2,350.4ZM242.3,368L256.4,351.9L254.2,350.4ZM242.3,368L244.5,369.5L256.4,351.9ZM244.5,369.5L246.7,370.9L256.4,351.9Z" fill="#00fdeb" stroke="#00fdeb" stroke-width="0.7"/>
<path d="M246.7,370.9L258.6,353.2L256.4,351.9ZM246.7,370.9L248.9,372.3L258.6,353.2ZM248.9,372.3L260.9,354.4L258.6,353.2ZM248.9,372.3L251.2,373.5L260.9,354.4Z" fill="#00fdea" stroke="#00fdea" stroke-width="0.7"/>
<path d="M251.2,373.5L253.6,374.6L260.9,354.4Z" fill="#00fde9" stroke="#00fde9" stroke-width="0.7"/>
<path d="M253.6,374.6L263.3,355.5L260.9,354.4ZM253.6,374.6L256,375.7L263.3,355.5Z" fill="#00fee9" stroke="#00fee9" stroke-width="0.7"/>
<path d="M256,375.7L265.7,356.4L263.3,355.5ZM256,375.7L258.4,376.6L265.7,356.4ZM258.4,376.6L268.1,357.4L265.7,356.4ZM258.4,376.6L260.9,377.6L268.1,357.4Z" fill="#00fee8" stroke="#00fee8" stroke-width="0.7"/>
<path d="M260.9,377.6L270.6,358.2L268.1,357.4ZM260.9,377.6L263.3,378.5L270.6,358.2ZM263.3,378.5L273,359.1L270.6,358.2ZM263.3,378.5L265.8,379.4L273,359.1Z" fill="#00fee7" stroke="#00fee7" stroke-width="0.7"/>
<path d="M265.8,379.4L275.5,360L273,359.1ZM265.8,379.4L268.2,380.3L275.5,360ZM268.2,380.3L277.9,360.8L275.5,360Z" fill="#00fee6" stroke="#00fee6" stroke-width="0.7"/>
<path d="M268.2,380.3L270.7,381.2L277.9,360.8Z" fill="#00ffe6" stroke="#00ffe6" stroke-width="0.7"/>
<path d="M270.7,381.2L273.1,382.1L277.9,360.8ZM273.1,382.1L280.4,361.6L277.9,360.8ZM273.1,382.1L275.6,382.8L280.4,361.6ZM275.6,382.8L282.9,362.4L280.4,361.6Z" fill="#00ffe5" stroke="#00ffe5" stroke-width="0.7"/>
<path d="M275.6,382.8L278.2,383.6L282.9,362.4ZM278.2,383.6L285.4,363.2L282.9,362.4ZM278.2,383.6L280.6,384.5L285.4,363.2ZM280.6,384.5L287.9,363.9L285.4,363.2ZM280.6,384.5L290.3,364.7L287.9,363.9ZM280.6,384.5L283,385.6L290.3,364.7Z" fill="#00ffe4" stroke="#00ffe4" stroke-width="0.7"/>
<path d="M283,385.6L292.8,365.6L290.3,364.7ZM283,385.6L295.2,366.6L292.8,365.6ZM283,385.6L285,387.2L295.2,366.6ZM285,387.2L297.5,367.7L295.2,366.6ZM285,387.2L299.8,369L297.5,367.7ZM285,387.2L302,370.4L299.8,369ZM285,387.2L286.7,389.2L302,370.4ZM286.7,389.2L304.1,371.9L302,370.4Z" fill="#00ffe3" stroke="#00ffe3" stroke-width="0.7"/>
<path d="M286.7,389.2L306.2,373.4L304.1,371.9ZM286.7,389.2L288.2,391.4L306.2,373.4ZM288.2,391.4L308.3,375L306.2,373.4ZM288.2,391.4L289.5,393.6L308.3,375ZM289.5,393.6L310.2,376.7L308.3,375ZM289.5,393.6L312,378.6L310.2,376.7ZM289.5,393.6L313.5,380.7L312,378.6ZM289.5,393.6L314.6,383.1L313.5,380.7ZM289.5,393.6L290.8,395.9L314.6,383.1Z" fill="#00ffe2" stroke="#00ffe2" stroke-width="0.7"/>
<path d="M290.8,395.9L315.4,385.6L314.6,383.1ZM290.8,395.9L315.9,388.1L315.4,385.6ZM290.8,395.9L316.2,390.7L315.9,388.1ZM290.8,395.9L316.4,393.3L316.2,390.7ZM290.8,395.9L316.5,395.9L316.4,393.3Z" fill="#00ffe1" stroke="#00ffe1" stroke-width="0.7"/>
<g clip-path="url(#trapclip)"><path d="M327.8,323.3L323.3,320.6L318.9,317.8L314.7,314.7L310.5,311.5L306.4,308.3L302.4,305L298.3,301.7L294.3,298.4L290.2,295.1L286,291.9L281.8,288.9L277.5,285.9L273.1,283.1L268.5,280.5L263.9,278L259.1,275.9L254.1,274.6L248.9,274L243.7,273.6" fill="none" stroke="#004bfa" stroke-width="9" stroke-linecap="butt" stroke-linejoin="round" opacity="0.85" filter="url(#p2ga)"/></g>
<g clip-path="url(#trapclip)"><path d="M320,349L315.3,346.8L310.6,344.6L306,342.2L301.5,339.6L297.1,336.8L292.7,334L288.5,331L284.4,327.8L280.3,324.5L276.5,321L272.8,317.3L269.1,313.6L265.4,310L261.6,306.5" fill="none" stroke="#00a5ff" stroke-width="7" stroke-linecap="butt" stroke-linejoin="round" opacity="0.8" filter="url(#p2gb)"/></g>
<path d="M360.5,331.2C372,333 373.5,352 363.5,356L330,356L318,349L327,320Z" fill="url(#p2c)"/>
<g clip-path="url(#trapclip)"><path d="M355.3,355.6L352.7,355.6L350.1,355.6L347.5,355.6L344.9,355.6L342.3,355.6L339.7,355.6L337.1,355.2L334.7,354.5L332.2,353.7L329.7,352.8L327.3,351.9L324.8,351L322.4,350L320,349L317.7,347.9L315.3,346.8L313,345.7" fill="none" stroke="#00eeff" stroke-width="9" stroke-linecap="butt" stroke-linejoin="round" opacity="1.0" filter="url(#p2gf)"/></g>
<rect x="248" y="294.5" width="12" height="12" fill="url(#p2d2)"/>
<path d="M457,316.3C447,322 433,329 412,331.6" fill="none" stroke="#fff" stroke-width="1" opacity="0.6"/>
</g></g></g>
<g opacity="0.999">
<text x="7.2" y="99.8" class="lg">Pressure</text>
<rect x="6.8" y="108.6" width="16.2" height="215.6" fill="url(#bar)"/>
<rect x="7.1" y="108.9" width="15.6" height="215.1" fill="none" stroke="#1c1c1c" stroke-width="0.9" opacity="0.8"/>
<text x="29.6" y="121.6" class="lg">6426.50</text>
<text x="29.6" y="133.1" class="lg">5892.39</text>
<text x="29.6" y="144.7" class="lg">5358.27</text>
<text x="29.6" y="156.2" class="lg">4824.16</text>
<text x="29.6" y="167.7" class="lg">4290.05</text>
<text x="29.6" y="179.3" class="lg">3755.94</text>
<text x="29.6" y="190.8" class="lg">3221.82</text>
<text x="29.6" y="202.3" class="lg">2687.71</text>
<text x="29.6" y="213.9" class="lg">2153.60</text>
<text x="29.6" y="225.4" class="lg">1619.48</text>
<text x="29.6" y="236.9" class="lg">1085.37</text>
<text x="29.6" y="248.5" class="lg">551.26</text>
<text x="29.6" y="260" class="lg">17.15</text>
<text x="29.6" y="271.5" class="lg">-516.97</text>
<text x="29.6" y="283.1" class="lg">-1051.08</text>
<text x="29.6" y="294.6" class="lg">-1585.19</text>
<text x="29.6" y="306.1" class="lg">-2119.30</text>
<text x="29.6" y="317.7" class="lg">-2653.42</text>
<text x="29.6" y="329.2" class="lg">-3187.53</text>
<path d="M23.6,116.3h1.5M23.6,127.8h1.5M23.6,139.4h1.5M23.6,150.9h1.5M23.6,162.4h1.5M23.6,174h1.5M23.6,185.5h1.5M23.6,197h1.5M23.6,208.6h1.5M23.6,220.1h1.5M23.6,231.6h1.5M23.6,243.2h1.5M23.6,254.7h1.5M23.6,266.2h1.5M23.6,277.8h1.5M23.6,289.3h1.5M23.6,300.8h1.5M23.6,312.4h1.5M23.6,323.9h1.5" stroke="#334" stroke-width="0.9" opacity="0.6"/>
<text x="7.2" y="345.4" class="lg">[Pa]</text>
<text x="562.6" y="52.3" class="ts">Timestep = 500</text>
<g><path d="M613.5,375.9V352" stroke="#1c551c" stroke-width="1.3"/><path d="M613.5,348l2.6,5.8h-5.2z" fill="#257a25"/><path d="M613.5,375.9H636" stroke="#8c1c1c" stroke-width="2.1"/><path d="M641.6,375.9l-6.6,-2.4v4.8z" fill="#c01818"/><circle cx="613.5" cy="375.9" r="2.7" fill="#10108c"/><circle cx="627.9" cy="361.4" r="2.7" fill="#19b9b4"/><circle cx="627.2" cy="360.7" r="1" fill="#6fe6e0"/><text x="613.9" y="343.8" class="ax" fill="#2a552a" style="font-size:7px">Y</text><text x="648.3" y="378.2" class="ax" fill="#a03030">X</text></g>
</g>
</g>
<g transform="translate(-2.7,414)">
<g filter="url(#soft)" transform="translate(0,0.6)"><g clip-path="url(#shape)">
<g opacity="0.999">
<rect x="100" y="0" width="460" height="410" fill="#00ffc8"/>
<path d="M130,10L270,10L270,203.6L214,203.6L214,223L186,223L186,203.6L130,203.6Z" fill="url(#p3t)"/>
<path d="M168,218L263,218L277,248L300,270L314,292L308,302L290,289L259,270L218,250L168,240Z" fill="url(#p3f)"/>
<rect x="172.9" y="210.9" width="46.2" height="46.2" fill="url(#p3fl)"/>
<rect x="317.8" y="256.8" width="160.4" height="160.4" fill="url(#p3g1)"/>
<path d="M370,341L395,338L412,333.5C433,331 447,324 459,316.5L462,362L370,362Z" fill="url(#p3s)" filter="url(#p3sf)"/>
<path d="M412,332.5C433,330 447,323 459,315.5" fill="none" stroke="#00ff30" stroke-width="2.2" opacity="0.8"/>
<path d="M360.5,331.4L357.9,355.6L360.5,355.6ZM360.5,331.4L357.9,331.2L357.9,355.6ZM357.9,331.2L355.3,355.6L357.9,355.6ZM357.9,331.2L355.3,331L355.3,355.6ZM355.3,331L352.7,355.6L355.3,355.6ZM355.3,331L352.7,330.8L352.7,355.6Z" fill="#00f4ff" stroke="#00f4ff" stroke-width="0.7"/>
<path d="M352.7,330.8L350.1,355.6L352.7,355.6ZM352.7,330.8L350.1,330.5L350.1,355.6ZM350.1,330.5L347.5,355.6L350.1,355.6ZM350.1,330.5L347.5,330.1L347.5,355.6ZM347.5,330.1L344.9,355.6L347.5,355.6ZM347.5,330.1L344.9,329.6L344.9,355.6ZM344.9,329.6L342.3,355.6L344.9,355.6ZM344.9,329.6L339.7,355.6L342.3,355.6ZM344.9,329.6L342.4,329L339.7,355.6ZM342.4,329L337.1,355.2L339.7,355.6ZM342.4,329L334.7,354.5L337.1,355.2ZM342.4,329L332.2,353.7L334.7,354.5ZM342.4,329L339.9,328.3L332.2,353.7Z" fill="#00f3ff" stroke="#00f3ff" stroke-width="0.7"/>
<path d="M339.9,328.3L329.7,352.8L332.2,353.7ZM339.9,328.3L337.4,327.5L329.7,352.8ZM337.4,327.5L327.3,351.9L329.7,352.8ZM337.4,327.5L334.9,326.6L327.3,351.9ZM334.9,326.6L324.8,351L327.3,351.9ZM334.9,326.6L332.5,325.6L324.8,351ZM332.5,325.6L322.4,350L324.8,351ZM332.5,325.6L320,349L322.4,350ZM332.5,325.6L330.1,324.5L320,349ZM330.1,324.5L317.7,347.9L320,349Z" fill="#00f2ff" stroke="#00f2ff" stroke-width="0.7"/>
<path d="M330.1,324.5L327.8,323.3L317.7,347.9ZM327.8,323.3L315.3,346.8L317.7,347.9ZM327.8,323.3L325.5,322L315.3,346.8ZM325.5,322L313,345.7L315.3,346.8ZM325.5,322L310.6,344.6L313,345.7ZM325.5,322L323.3,320.6L310.6,344.6ZM323.3,320.6L308.3,343.4L310.6,344.6ZM323.3,320.6L321.1,319.2L308.3,343.4ZM321.1,319.2L306,342.2L308.3,343.4ZM212.7,320.7L234.8,321L234.8,318.4Z" fill="#00f1ff" stroke="#00f1ff" stroke-width="0.7"/>
<path d="M321.1,319.2L318.9,317.8L306,342.2ZM318.9,317.8L303.7,340.9L306,342.2ZM318.9,317.8L316.8,316.2L303.7,340.9ZM316.8,316.2L301.5,339.6L303.7,340.9ZM316.8,316.2L299.3,338.2L301.5,339.6ZM316.8,316.2L314.7,314.7L299.3,338.2ZM314.7,314.7L297.1,336.8L299.3,338.2ZM314.7,314.7L312.6,313.1L297.1,336.8ZM312.6,313.1L294.9,335.4L297.1,336.8ZM312.6,313.1L310.5,311.5L294.9,335.4ZM212.3,315.4L234.8,318.4L235.1,315.8ZM212.3,315.4L212.5,318.1L234.8,318.4ZM212.5,318.1L212.7,320.7L234.8,318.4Z" fill="#00f0ff" stroke="#00f0ff" stroke-width="0.7"/>
<path d="M310.5,311.5L292.7,334L294.9,335.4ZM310.5,311.5L308.5,309.9L292.7,334ZM308.5,309.9L290.6,332.5L292.7,334ZM308.5,309.9L306.4,308.3L290.6,332.5ZM306.4,308.3L288.5,331L290.6,332.5ZM306.4,308.3L304.4,306.6L288.5,331ZM304.4,306.6L286.4,329.4L288.5,331ZM304.4,306.6L284.4,327.8L286.4,329.4ZM304.4,306.6L302.4,305L284.4,327.8ZM212.3,312.8L235.1,315.8L235.5,313.3ZM212.3,312.8L212.3,315.4L235.1,315.8Z" fill="#00efff" stroke="#00efff" stroke-width="0.7"/>
<path d="M302.4,305L282.3,326.2L284.4,327.8ZM302.4,305L300.3,303.3L282.3,326.2ZM300.3,303.3L280.3,324.5L282.3,326.2ZM300.3,303.3L298.3,301.7L280.3,324.5ZM298.3,301.7L278.4,322.8L280.3,324.5ZM298.3,301.7L296.3,300L278.4,322.8ZM212.5,307.6L212.3,310.2L235.5,313.3ZM212.3,310.2L212.3,312.8L235.5,313.3Z" fill="#00eeff" stroke="#00eeff" stroke-width="0.7"/>
<path d="M296.3,300L276.5,321L278.4,322.8ZM296.3,300L294.3,298.4L276.5,321ZM294.3,298.4L274.7,319.2L276.5,321ZM294.3,298.4L292.2,296.8L274.7,319.2ZM212.7,305L212.5,307.6L236.3,310.8ZM212.5,307.6L235.5,313.3L236.3,310.8Z" fill="#00edff" stroke="#00edff" stroke-width="0.7"/>
<path d="M292.2,296.8L272.8,317.3L274.7,319.2ZM292.2,296.8L290.2,295.1L272.8,317.3ZM290.2,295.1L271,315.5L272.8,317.3ZM213,302.4L212.7,305L236.3,310.8Z" fill="#00ecff" stroke="#00ecff" stroke-width="0.7"/>
<path d="M290.2,295.1L288.1,293.5L271,315.5ZM288.1,293.5L269.1,313.6L271,315.5ZM288.1,293.5L286,291.9L269.1,313.6ZM213.4,299.8L213,302.4L237.3,308.4ZM213,302.4L236.3,310.8L237.3,308.4Z" fill="#00ebff" stroke="#00ebff" stroke-width="0.7"/>
<path d="M286,291.9L267.3,311.8L269.1,313.6ZM286,291.9L283.9,290.4L267.3,311.8ZM283.9,290.4L265.4,310L267.3,311.8ZM283.9,290.4L281.8,288.9L265.4,310ZM213.9,297.2L213.4,299.8L237.3,308.4Z" fill="#00eaff" stroke="#00eaff" stroke-width="0.7"/>
<path d="M281.8,288.9L263.6,308.2L265.4,310ZM281.8,288.9L279.6,287.4L263.6,308.2ZM279.6,287.4L277.5,285.9L263.6,308.2ZM214.5,294.7L213.9,297.2L238.6,306.1ZM213.9,297.2L237.3,308.4L238.6,306.1Z" fill="#00e9ff" stroke="#00e9ff" stroke-width="0.7"/>
<path d="M277.5,285.9L261.6,306.5L263.6,308.2ZM277.5,285.9L275.3,284.5L261.6,306.5ZM275.3,284.5L259.5,305L261.6,306.5ZM215.2,292.2L214.5,294.7L238.6,306.1Z" fill="#00e8ff" stroke="#00e8ff" stroke-width="0.7"/>
<path d="M275.3,284.5L273.1,283.1L259.5,305ZM273.1,283.1L270.8,281.8L259.5,305ZM270.8,281.8L257.2,303.7L259.5,305ZM270.8,281.8L268.5,280.5L257.2,303.7ZM216.2,289.8L238.6,306.1L240.3,304.1ZM216.2,289.8L215.2,292.2L238.6,306.1Z" fill="#00e7ff" stroke="#00e7ff" stroke-width="0.7"/>
<path d="M268.5,280.5L254.9,302.6L257.2,303.7ZM268.5,280.5L266.2,279.2L254.9,302.6ZM217.3,287.4L216.2,289.8L240.3,304.1Z" fill="#00e6ff" stroke="#00e6ff" stroke-width="0.7"/>
<path d="M266.2,279.2L263.9,278L254.9,302.6ZM263.9,278L252.4,301.7L254.9,302.6ZM220.3,283.1L218.7,285.2L240.3,304.1ZM218.7,285.2L217.3,287.4L240.3,304.1Z" fill="#00e5ff" stroke="#00e5ff" stroke-width="0.7"/>
<path d="M263.9,278L261.6,276.9L252.4,301.7ZM222.1,281.2L240.3,304.1L242.4,302.6ZM222.1,281.2L220.3,283.1L240.3,304.1Z" fill="#00e4ff" stroke="#00e4ff" stroke-width="0.7"/>
<path d="M261.6,276.9L259.1,275.9L252.4,301.7ZM259.1,275.9L249.9,301.1L252.4,301.7ZM226.1,277.9L224,279.5L242.4,302.6ZM224,279.5L222.1,281.2L242.4,302.6Z" fill="#00e3ff" stroke="#00e3ff" stroke-width="0.7"/>
<path d="M259.1,275.9L256.6,275.2L249.9,301.1ZM230.8,275.7L228.4,276.7L242.4,302.6ZM228.4,276.7L226.1,277.9L242.4,302.6Z" fill="#00e2ff" stroke="#00e2ff" stroke-width="0.7"/>
<path d="M256.6,275.2L254.1,274.6L249.9,301.1ZM254.1,274.6L251.5,274.3L249.9,301.1ZM233.3,274.9L242.4,302.6L244.7,301.6ZM233.3,274.9L230.8,275.7L242.4,302.6Z" fill="#00e1ff" stroke="#00e1ff" stroke-width="0.7"/>
<path d="M251.5,274.3L247.3,301.1L249.9,301.1ZM238.4,273.8L235.9,274.3L244.7,301.6ZM235.9,274.3L233.3,274.9L244.7,301.6Z" fill="#00e0ff" stroke="#00e0ff" stroke-width="0.7"/>
<path d="M251.5,274.3L248.9,274L247.3,301.1ZM248.9,274L246.3,273.8L247.3,301.1ZM243.7,273.6L241.1,273.6L244.7,301.6ZM241.1,273.6L238.4,273.8L244.7,301.6Z" fill="#00dfff" stroke="#00dfff" stroke-width="0.7"/>
<path d="M246.3,273.8L243.7,273.6L247.3,301.1ZM243.7,273.6L244.7,301.6L247.3,301.1Z" fill="#00deff" stroke="#00deff" stroke-width="0.7"/>
<path d="M212.7,320.7L213.1,323.2L234.8,321Z" fill="#00f1fe" stroke="#00f1fe" stroke-width="0.7"/>
<path d="M213.1,323.2L213.6,325.8L234.8,321ZM213.6,325.8L235,323.6L234.8,321ZM213.6,325.8L214.1,328.4L235,323.6Z" fill="#00f2fe" stroke="#00f2fe" stroke-width="0.7"/>
<path d="M214.1,328.4L235.5,326.1L235,323.6ZM214.1,328.4L214.8,330.9L235.5,326.1Z" fill="#00f3fe" stroke="#00f3fe" stroke-width="0.7"/>
<path d="M214.8,330.9L215.5,333.4L235.5,326.1ZM215.5,333.4L236.3,328.6L235.5,326.1ZM215.5,333.4L216.4,335.9L236.3,328.6ZM216.4,335.9L217.4,338.3L236.3,328.6ZM217.4,338.3L237.2,331.1L236.3,328.6ZM217.4,338.3L218.5,340.7L237.2,331.1ZM218.5,340.7L238.4,333.4L237.2,331.1ZM218.5,340.7L219.8,343L238.4,333.4ZM219.8,343L221.1,345.2L238.4,333.4ZM221.1,345.2L239.7,335.6L238.4,333.4ZM221.1,345.2L222.5,347.4L239.7,335.6ZM222.5,347.4L241.2,337.8L239.7,335.6Z" fill="#00f4fe" stroke="#00f4fe" stroke-width="0.7"/>
<path d="M222.5,347.4L224,349.6L241.2,337.8ZM224,349.6L225.5,351.7L241.2,337.8ZM225.5,351.7L242.8,339.8L241.2,337.8ZM225.5,351.7L227.1,353.8L242.8,339.8ZM227.1,353.8L244.5,341.8L242.8,339.8ZM227.1,353.8L228.8,355.8L244.5,341.8ZM228.8,355.8L230.5,357.7L244.5,341.8ZM230.5,357.7L246.3,343.6L244.5,341.8ZM230.5,357.7L232.4,359.6L246.3,343.6ZM232.4,359.6L248.2,345.4L246.3,343.6Z" fill="#00f5fe" stroke="#00f5fe" stroke-width="0.7"/>
<path d="M232.4,359.6L234.2,361.4L248.2,345.4ZM234.2,361.4L250.1,347.2L248.2,345.4ZM234.2,361.4L236.2,363.2L250.1,347.2ZM236.2,363.2L238.2,364.8L250.1,347.2ZM238.2,364.8L252.1,348.8L250.1,347.2ZM238.2,364.8L240.2,366.5L252.1,348.8ZM240.2,366.5L254.2,350.4L252.1,348.8ZM240.2,366.5L242.3,368L254.2,350.4ZM242.3,368L256.4,351.9L254.2,350.4ZM242.3,368L244.5,369.5L256.4,351.9Z" fill="#00f5fd" stroke="#00f5fd" stroke-width="0.7"/>
<path d="M244.5,369.5L246.7,370.9L256.4,351.9ZM246.7,370.9L258.6,353.2L256.4,351.9ZM246.7,370.9L248.9,372.3L258.6,353.2ZM248.9,372.3L260.9,354.4L258.6,353.2ZM248.9,372.3L251.2,373.5L260.9,354.4ZM251.2,373.5L253.6,374.6L260.9,354.4ZM253.6,374.6L263.3,355.5L260.9,354.4ZM253.6,374.6L256,375.7L263.3,355.5ZM256,375.7L265.7,356.4L263.3,355.5ZM256,375.7L258.4,376.6L265.7,356.4ZM258.4,376.6L268.1,357.4L265.7,356.4ZM258.4,376.6L260.9,377.6L268.1,357.4ZM260.9,377.6L270.6,358.2L268.1,357.4ZM260.9,377.6L263.3,378.5L270.6,358.2ZM263.3,378.5L273,359.1L270.6,358.2ZM263.3,378.5L265.8,379.4L273,359.1ZM265.8,379.4L275.5,360L273,359.1ZM265.8,379.4L268.2,380.3L275.5,360ZM268.2,380.3L277.9,360.8L275.5,360ZM268.2,380.3L270.7,381.2L277.9,360.8ZM270.7,381.2L273.1,382.1L277.9,360.8Z" fill="#00f6fd" stroke="#00f6fd" stroke-width="0.7"/>
<path d="M273.1,382.1L280.4,361.6L277.9,360.8ZM273.1,382.1L275.6,382.8L280.4,361.6ZM275.6,382.8L282.9,362.4L280.4,361.6ZM275.6,382.8L278.2,383.6L282.9,362.4ZM278.2,383.6L285.4,363.2L282.9,362.4ZM278.2,383.6L280.6,384.5L285.4,363.2ZM280.6,384.5L287.9,363.9L285.4,363.2ZM280.6,384.5L290.3,364.7L287.9,363.9ZM280.6,384.5L283,385.6L290.3,364.7ZM283,385.6L292.8,365.6L290.3,364.7Z" fill="#00f7fd" stroke="#00f7fd" stroke-width="0.7"/>
<path d="M283,385.6L295.2,366.6L292.8,365.6ZM283,385.6L285,387.2L295.2,366.6ZM285,387.2L297.5,367.7L295.2,366.6ZM285,387.2L299.8,369L297.5,367.7ZM285,387.2L302,370.4L299.8,369ZM285,387.2L286.7,389.2L302,370.4ZM286.7,389.2L304.1,371.9L302,370.4ZM286.7,389.2L306.2,373.4L304.1,371.9ZM286.7,389.2L288.2,391.4L306.2,373.4ZM288.2,391.4L308.3,375L306.2,373.4Z" fill="#00f7fc" stroke="#00f7fc" stroke-width="0.7"/>
<path d="M288.2,391.4L289.5,393.6L308.3,375ZM289.5,393.6L310.2,376.7L308.3,375ZM289.5,393.6L312,378.6L310.2,376.7ZM289.5,393.6L313.5,380.7L312,378.6ZM289.5,393.6L314.6,383.1L313.5,380.7ZM289.5,393.6L290.8,395.9L314.6,383.1ZM290.8,395.9L315.4,385.6L314.6,383.1ZM290.8,395.9L315.9,388.1L315.4,385.6ZM290.8,395.9L316.2,390.7L315.9,388.1ZM290.8,395.9L316.4,393.3L316.2,390.7ZM290.8,395.9L316.5,395.9L316.4,393.3Z" fill="#00f8fc" stroke="#00f8fc" stroke-width="0.7"/>
<g clip-path="url(#trapclip)"><path d="M318.9,317.8L314.7,314.7L310.5,311.5L306.4,308.3L302.4,305L298.3,301.7L294.3,298.4L290.2,295.1L286,291.9L281.8,288.9L277.5,285.9L273.1,283.1L268.5,280.5L263.9,278L261.6,276.9" fill="none" stroke="#0096ff" stroke-width="10" stroke-linecap="butt" stroke-linejoin="round" opacity="0.75" filter="url(#p3gc)"/></g>
<g clip-path="url(#trapclip)"><path d="M283.9,290.4L279.6,287.4L275.3,284.5L270.8,281.8L266.2,279.2L261.6,276.9L256.6,275.2L251.5,274.3L246.3,273.8L241.1,273.6L235.9,274.3L230.8,275.7L226.1,277.9L222.1,281.2L218.7,285.2L216.2,289.8L215.2,292.2" fill="none" stroke="#0069ff" stroke-width="16" stroke-linecap="butt" stroke-linejoin="round" opacity="0.95" filter="url(#p3ga)"/></g>
<path d="M361,331.5C375,333 376.5,352 366.5,356L352,356L352,331Z" fill="#00f0ff"/>
<rect x="280" y="385" width="14" height="14" fill="url(#p3d1)"/>
<path d="M457,316.3C447,322 433,329 412,331.6" fill="none" stroke="#fff" stroke-width="1" opacity="0.35"/>
</g></g></g>
<g opacity="0.999">
<text x="7.2" y="99.8" class="lg">Pressure</text>
<rect x="6.8" y="108.6" width="16.2" height="215.6" fill="url(#bar)"/>
<rect x="7.1" y="108.9" width="15.6" height="215.1" fill="none" stroke="#1c1c1c" stroke-width="0.9" opacity="0.8"/>
<text x="29.6" y="121.6" class="lg">3254.67</text>
<text x="29.6" y="133.1" class="lg">3010.81</text>
<text x="29.6" y="144.7" class="lg">2766.94</text>
<text x="29.6" y="156.2" class="lg">2523.08</text>
<text x="29.6" y="167.7" class="lg">2279.22</text>
<text x="29.6" y="179.3" class="lg">2035.35</text>
<text x="29.6" y="190.8" class="lg">1791.49</text>
<text x="29.6" y="202.3" class="lg">1547.63</text>
<text x="29.6" y="213.9" class="lg">1303.77</text>
<text x="29.6" y="225.4" class="lg">1059.90</text>
<text x="29.6" y="236.9" class="lg">816.04</text>
<text x="29.6" y="248.5" class="lg">572.18</text>
<text x="29.6" y="260" class="lg">328.31</text>
<text x="29.6" y="271.5" class="lg">84.45</text>
<text x="29.6" y="283.1" class="lg">-159.41</text>
<text x="29.6" y="294.6" class="lg">-403.27</text>
<text x="29.6" y="306.1" class="lg">-647.14</text>
<text x="29.6" y="317.7" class="lg">-891.00</text>
<text x="29.6" y="329.2" class="lg">-1134.86</text>
<path d="M23.6,116.3h1.5M23.6,127.8h1.5M23.6,139.4h1.5M23.6,150.9h1.5M23.6,162.4h1.5M23.6,174h1.5M23.6,185.5h1.5M23.6,197h1.5M23.6,208.6h1.5M23.6,220.1h1.5M23.6,231.6h1.5M23.6,243.2h1.5M23.6,254.7h1.5M23.6,266.2h1.5M23.6,277.8h1.5M23.6,289.3h1.5M23.6,300.8h1.5M23.6,312.4h1.5M23.6,323.9h1.5" stroke="#334" stroke-width="0.9" opacity="0.6"/>
<text x="7.2" y="345.4" class="lg">[Pa]</text>
<text x="562.6" y="52.3" class="ts">Timestep = 1000</text>
<g><path d="M613.5,375.9V352" stroke="#1c551c" stroke-width="1.3"/><path d="M613.5,348l2.6,5.8h-5.2z" fill="#257a25"/><path d="M613.5,375.9H636" stroke="#8c1c1c" stroke-width="2.1"/><path d="M641.6,375.9l-6.6,-2.4v4.8z" fill="#c01818"/><circle cx="613.5" cy="375.9" r="2.7" fill="#10108c"/><circle cx="627.9" cy="361.4" r="2.7" fill="#19b9b4"/><circle cx="627.2" cy="360.7" r="1" fill="#6fe6e0"/><text x="613.9" y="343.8" class="ax" fill="#2a552a" style="font-size:7px">Y</text><text x="648.3" y="378.2" class="ax" fill="#a03030">X</text></g>
</g>
</g>
<g transform="translate(657,414)">
<g filter="url(#soft)"><g clip-path="url(#shape)">
<g opacity="0.999">
<rect x="100" y="0" width="460" height="410" fill="#00ffda"/>
<path d="M130,10L270,10L270,203.6L214,203.6L214,223L186,223L186,203.6L130,203.6Z" fill="#00ffde"/>
<path d="M360.5,331.4L357.9,355.6L360.5,355.6Z" fill="#beff00" stroke="#beff00" stroke-width="0.7"/>
<path d="M360.5,331.4L357.9,331.2L357.9,355.6Z" fill="#bbff00" stroke="#bbff00" stroke-width="0.7"/>
<path d="M357.9,331.2L355.3,355.6L357.9,355.6Z" fill="#b8ff00" stroke="#b8ff00" stroke-width="0.7"/>
<path d="M357.9,331.2L355.3,331L355.3,355.6Z" fill="#b5ff00" stroke="#b5ff00" stroke-width="0.7"/>
<path d="M355.3,331L352.7,355.6L355.3,355.6Z" fill="#b2ff00" stroke="#b2ff00" stroke-width="0.7"/>
<path d="M355.3,331L352.7,330.8L352.7,355.6Z" fill="#afff00" stroke="#afff00" stroke-width="0.7"/>
<path d="M352.7,330.8L350.1,355.6L352.7,355.6Z" fill="#acff00" stroke="#acff00" stroke-width="0.7"/>
<path d="M352.7,330.8L350.1,330.5L350.1,355.6Z" fill="#a9ff00" stroke="#a9ff00" stroke-width="0.7"/>
<path d="M350.1,330.5L347.5,355.6L350.1,355.6Z" fill="#a6ff00" stroke="#a6ff00" stroke-width="0.7"/>
<path d="M350.1,330.5L347.5,330.1L347.5,355.6Z" fill="#a3ff00" stroke="#a3ff00" stroke-width="0.7"/>
<path d="M347.5,330.1L344.9,355.6L347.5,355.6Z" fill="#a0ff00" stroke="#a0ff00" stroke-width="0.7"/>
<path d="M347.5,330.1L344.9,329.6L344.9,355.6Z" fill="#9bff00" stroke="#9bff00" stroke-width="0.7"/>
<path d="M344.9,329.6L342.3,355.6L344.9,355.6Z" fill="#95ff00" stroke="#95ff00" stroke-width="0.7"/>
<path d="M344.9,329.6L339.7,355.6L342.3,355.6Z" fill="#90ff00" stroke="#90ff00" stroke-width="0.7"/>
<path d="M344.9,329.6L342.4,329L339.7,355.6Z" fill="#8bff00" stroke="#8bff00" stroke-width="0.7"/>
<path d="M342.4,329L337.1,355.2L339.7,355.6Z" fill="#85ff00" stroke="#85ff00" stroke-width="0.7"/>
<path d="M342.4,329L334.7,354.5L337.1,355.2Z" fill="#80ff00" stroke="#80ff00" stroke-width="0.7"/>
<path d="M342.4,329L332.2,353.7L334.7,354.5Z" fill="#7bff00" stroke="#7bff00" stroke-width="0.7"/>
<path d="M342.4,329L339.9,328.3L332.2,353.7Z" fill="#75ff00" stroke="#75ff00" stroke-width="0.7"/>
<path d="M339.9,328.3L329.7,352.8L332.2,353.7Z" fill="#70ff00" stroke="#70ff00" stroke-width="0.7"/>
<path d="M339.9,328.3L337.4,327.5L329.7,352.8Z" fill="#6bff00" stroke="#6bff00" stroke-width="0.7"/>
<path d="M337.4,327.5L327.3,351.9L329.7,352.8Z" fill="#65ff00" stroke="#65ff00" stroke-width="0.7"/>
<path d="M337.4,327.5L334.9,326.6L327.3,351.9Z" fill="#60ff00" stroke="#60ff00" stroke-width="0.7"/>
<path d="M334.9,326.6L324.8,351L327.3,351.9Z" fill="#5bff00" stroke="#5bff00" stroke-width="0.7"/>
<path d="M334.9,326.6L332.5,325.6L324.8,351Z" fill="#55ff00" stroke="#55ff00" stroke-width="0.7"/>
<path d="M332.5,325.6L322.4,350L324.8,351Z" fill="#50ff00" stroke="#50ff00" stroke-width="0.7"/>
<path d="M332.5,325.6L320,349L322.4,350Z" fill="#4aff01" stroke="#4aff01" stroke-width="0.7"/>
<path d="M332.5,325.6L330.1,324.5L320,349Z" fill="#45ff03" stroke="#45ff03" stroke-width="0.7"/>
<path d="M330.1,324.5L317.7,347.9L320,349Z" fill="#3fff04" stroke="#3fff04" stroke-width="0.7"/>
<path d="M330.1,324.5L327.8,323.3L317.7,347.9Z" fill="#39ff06" stroke="#39ff06" stroke-width="0.7"/>
<path d="M327.8,323.3L315.3,346.8L317.7,347.9Z" fill="#33ff07" stroke="#33ff07" stroke-width="0.7"/>
<path d="M327.8,323.3L325.5,322L315.3,346.8Z" fill="#2eff09" stroke="#2eff09" stroke-width="0.7"/>
<path d="M325.5,322L313,345.7L315.3,346.8Z" fill="#28ff0a" stroke="#28ff0a" stroke-width="0.7"/>
<path d="M325.5,322L310.6,344.6L313,345.7Z" fill="#22ff0b" stroke="#22ff0b" stroke-width="0.7"/>
<path d="M325.5,322L323.3,320.6L310.6,344.6Z" fill="#1dff0d" stroke="#1dff0d" stroke-width="0.7"/>
<path d="M323.3,320.6L308.3,343.4L310.6,344.6Z" fill="#17ff0e" stroke="#17ff0e" stroke-width="0.7"/>
<path d="M323.3,320.6L321.1,319.2L308.3,343.4Z" fill="#11ff10" stroke="#11ff10" stroke-width="0.7"/>
<path d="M321.1,319.2L306,342.2L308.3,343.4Z" fill="#0bff11" stroke="#0bff11" stroke-width="0.7"/>
<path d="M321.1,319.2L318.9,317.8L306,342.2Z" fill="#06ff13" stroke="#06ff13" stroke-width="0.7"/>
<path d="M318.9,317.8L303.7,340.9L306,342.2Z" fill="#00ff14" stroke="#00ff14" stroke-width="0.7"/>
<path d="M318.9,317.8L316.8,316.2L303.7,340.9Z" fill="#00ff1b" stroke="#00ff1b" stroke-width="0.7"/>
<path d="M316.8,316.2L301.5,339.6L303.7,340.9Z" fill="#00ff22" stroke="#00ff22" stroke-width="0.7"/>
<path d="M316.8,316.2L299.3,338.2L301.5,339.6Z" fill="#00ff2a" stroke="#00ff2a" stroke-width="0.7"/>
<path d="M316.8,316.2L314.7,314.7L299.3,338.2Z" fill="#00ff31" stroke="#00ff31" stroke-width="0.7"/>
<path d="M314.7,314.7L297.1,336.8L299.3,338.2Z" fill="#00ff38" stroke="#00ff38" stroke-width="0.7"/>
<path d="M314.7,314.7L312.6,313.1L297.1,336.8Z" fill="#00ff3f" stroke="#00ff3f" stroke-width="0.7"/>
<path d="M312.6,313.1L294.9,335.4L297.1,336.8Z" fill="#00ff46" stroke="#00ff46" stroke-width="0.7"/>
<path d="M312.6,313.1L310.5,311.5L294.9,335.4Z" fill="#00ff4e" stroke="#00ff4e" stroke-width="0.7"/>
<path d="M310.5,311.5L292.7,334L294.9,335.4Z" fill="#00ff55" stroke="#00ff55" stroke-width="0.7"/>
<path d="M310.5,311.5L308.5,309.9L292.7,334Z" fill="#00ff5c" stroke="#00ff5c" stroke-width="0.7"/>
<path d="M308.5,309.9L290.6,332.5L292.7,334Z" fill="#00ff63" stroke="#00ff63" stroke-width="0.7"/>
<path d="M308.5,309.9L306.4,308.3L290.6,332.5Z" fill="#00ff6a" stroke="#00ff6a" stroke-width="0.7"/>
<path d="M306.4,308.3L288.5,331L290.6,332.5Z" fill="#00ff72" stroke="#00ff72" stroke-width="0.7"/>
<path d="M306.4,308.3L304.4,306.6L288.5,331Z" fill="#00ff79" stroke="#00ff79" stroke-width="0.7"/>
<path d="M304.4,306.6L286.4,329.4L288.5,331Z" fill="#00ff80" stroke="#00ff80" stroke-width="0.7"/>
<path d="M304.4,306.6L284.4,327.8L286.4,329.4Z" fill="#00ff87" stroke="#00ff87" stroke-width="0.7"/>
<path d="M304.4,306.6L302.4,305L284.4,327.8Z" fill="#00ff8e" stroke="#00ff8e" stroke-width="0.7"/>
<path d="M302.4,305L282.3,326.2L284.4,327.8Z" fill="#00ff96" stroke="#00ff96" stroke-width="0.7"/>
<path d="M302.4,305L300.3,303.3L282.3,326.2Z" fill="#00ff9d" stroke="#00ff9d" stroke-width="0.7"/>
<path d="M300.3,303.3L280.3,324.5L282.3,326.2Z" fill="#00ffa4" stroke="#00ffa4" stroke-width="0.7"/>
<path d="M300.3,303.3L298.3,301.7L280.3,324.5Z" fill="#00ffab" stroke="#00ffab" stroke-width="0.7"/>
<path d="M298.3,301.7L278.4,322.8L280.3,324.5Z" fill="#00ffb2" stroke="#00ffb2" stroke-width="0.7"/>
<path d="M298.3,301.7L296.3,300L278.4,322.8Z" fill="#00ffba" stroke="#00ffba" stroke-width="0.7"/>
<path d="M296.3,300L276.5,321L278.4,322.8Z" fill="#00ffc1" stroke="#00ffc1" stroke-width="0.7"/>
<path d="M296.3,300L294.3,298.4L276.5,321Z" fill="#00ffc8" stroke="#00ffc8" stroke-width="0.7"/>
<path d="M294.3,298.4L274.7,319.2L276.5,321Z" fill="#00fdcb" stroke="#00fdcb" stroke-width="0.7"/>
<path d="M294.3,298.4L292.2,296.8L274.7,319.2Z" fill="#00fbce" stroke="#00fbce" stroke-width="0.7"/>
<path d="M292.2,296.8L272.8,317.3L274.7,319.2Z" fill="#00fad2" stroke="#00fad2" stroke-width="0.7"/>
<path d="M292.2,296.8L290.2,295.1L272.8,317.3Z" fill="#00f8d5" stroke="#00f8d5" stroke-width="0.7"/>
<path d="M290.2,295.1L271,315.5L272.8,317.3Z" fill="#00f6d8" stroke="#00f6d8" stroke-width="0.7"/>
<path d="M290.2,295.1L288.1,293.5L271,315.5Z" fill="#00f4db" stroke="#00f4db" stroke-width="0.7"/>
<path d="M288.1,293.5L269.1,313.6L271,315.5Z" fill="#00f3df" stroke="#00f3df" stroke-width="0.7"/>
<path d="M288.1,293.5L286,291.9L269.1,313.6Z" fill="#00f1e2" stroke="#00f1e2" stroke-width="0.7"/>
<path d="M286,291.9L267.3,311.8L269.1,313.6Z" fill="#00efe5" stroke="#00efe5" stroke-width="0.7"/>
<path d="M286,291.9L283.9,290.4L267.3,311.8Z" fill="#00ede8" stroke="#00ede8" stroke-width="0.7"/>
<path d="M283.9,290.4L265.4,310L267.3,311.8Z" fill="#00ecec" stroke="#00ecec" stroke-width="0.7"/>
<path d="M283.9,290.4L281.8,288.9L265.4,310Z" fill="#00eaef" stroke="#00eaef" stroke-width="0.7"/>
<path d="M281.8,288.9L263.6,308.2L265.4,310Z" fill="#00e8f2" stroke="#00e8f2" stroke-width="0.7"/>
<path d="M281.8,288.9L279.6,287.4L263.6,308.2Z" fill="#00e6f5" stroke="#00e6f5" stroke-width="0.7"/>
<path d="M279.6,287.4L277.5,285.9L263.6,308.2Z" fill="#00e5f9" stroke="#00e5f9" stroke-width="0.7"/>
<path d="M277.5,285.9L261.6,306.5L263.6,308.2Z" fill="#00e3fc" stroke="#00e3fc" stroke-width="0.7"/>
<path d="M277.5,285.9L275.3,284.5L261.6,306.5Z" fill="#00e1ff" stroke="#00e1ff" stroke-width="0.7"/>
<path d="M275.3,284.5L259.5,305L261.6,306.5Z" fill="#00dcff" stroke="#00dcff" stroke-width="0.7"/>
<path d="M275.3,284.5L273.1,283.1L259.5,305Z" fill="#00d6ff" stroke="#00d6ff" stroke-width="0.7"/>
<path d="M273.1,283.1L270.8,281.8L259.5,305Z" fill="#00d1ff" stroke="#00d1ff" stroke-width="0.7"/>
<path d="M270.8,281.8L257.2,303.7L259.5,305Z" fill="#00cbff" stroke="#00cbff" stroke-width="0.7"/>
<path d="M270.8,281.8L268.5,280.5L257.2,303.7Z" fill="#00c6ff" stroke="#00c6ff" stroke-width="0.7"/>
<path d="M268.5,280.5L254.9,302.6L257.2,303.7Z" fill="#00c0ff" stroke="#00c0ff" stroke-width="0.7"/>
<path d="M268.5,280.5L266.2,279.2L254.9,302.6Z" fill="#00bbff" stroke="#00bbff" stroke-width="0.7"/>
<path d="M266.2,279.2L263.9,278L254.9,302.6Z" fill="#00b6ff" stroke="#00b6ff" stroke-width="0.7"/>
<path d="M263.9,278L252.4,301.7L254.9,302.6Z" fill="#00b0ff" stroke="#00b0ff" stroke-width="0.7"/>
<path d="M263.9,278L261.6,276.9L252.4,301.7Z" fill="#00abff" stroke="#00abff" stroke-width="0.7"/>
<path d="M261.6,276.9L259.1,275.9L252.4,301.7Z" fill="#00a5ff" stroke="#00a5ff" stroke-width="0.7"/>
<path d="M259.1,275.9L249.9,301.1L252.4,301.7Z" fill="#00a0ff" stroke="#00a0ff" stroke-width="0.7"/>
<path d="M259.1,275.9L256.6,275.2L249.9,301.1Z" fill="#009cff" stroke="#009cff" stroke-width="0.7"/>
<path d="M256.6,275.2L254.1,274.6L249.9,301.1Z" fill="#0098ff" stroke="#0098ff" stroke-width="0.7"/>
<path d="M254.1,274.6L251.5,274.3L249.9,301.1Z" fill="#0094ff" stroke="#0094ff" stroke-width="0.7"/>
<path d="M251.5,274.3L247.3,301.1L249.9,301.1Z" fill="#0090ff" stroke="#0090ff" stroke-width="0.7"/>
<path d="M251.5,274.3L248.9,274L247.3,301.1Z" fill="#008dff" stroke="#008dff" stroke-width="0.7"/>
<path d="M248.9,274L246.3,273.8L247.3,301.1ZM214.1,328.4L235.5,326.1L235,323.6ZM214.1,328.4L214.8,330.9L235.5,326.1Z" fill="#0089ff" stroke="#0089ff" stroke-width="0.7"/>
<path d="M246.3,273.8L243.7,273.6L247.3,301.1ZM212.3,312.8L235.1,315.8L235.5,313.3ZM212.3,312.8L212.3,315.4L235.1,315.8Z" fill="#0085ff" stroke="#0085ff" stroke-width="0.7"/>
<path d="M243.7,273.6L244.7,301.6L247.3,301.1ZM213.9,297.2L237.3,308.4L238.6,306.1ZM213.9,297.2L213.4,299.8L237.3,308.4Z" fill="#0081ff" stroke="#0081ff" stroke-width="0.7"/>
<path d="M243.7,273.6L241.1,273.6L244.7,301.6ZM241.1,273.6L238.4,273.8L244.7,301.6ZM238.4,273.8L235.9,274.3L244.7,301.6ZM235.9,274.3L233.3,274.9L244.7,301.6ZM233.3,274.9L242.4,302.6L244.7,301.6ZM233.3,274.9L230.8,275.7L242.4,302.6ZM230.8,275.7L228.4,276.7L242.4,302.6ZM228.4,276.7L226.1,277.9L242.4,302.6ZM226.1,277.9L224,279.5L242.4,302.6ZM224,279.5L222.1,281.2L242.4,302.6ZM222.1,281.2L240.3,304.1L242.4,302.6ZM222.1,281.2L220.3,283.1L240.3,304.1ZM220.3,283.1L218.7,285.2L240.3,304.1Z" fill="#007dff" stroke="#007dff" stroke-width="0.7"/>
<path d="M218.7,285.2L217.3,287.4L240.3,304.1ZM217.3,287.4L216.2,289.8L240.3,304.1ZM240.2,366.5L242.3,368L254.2,350.4Z" fill="#007eff" stroke="#007eff" stroke-width="0.7"/>
<path d="M216.2,289.8L238.6,306.1L240.3,304.1ZM216.2,289.8L215.2,292.2L238.6,306.1Z" fill="#007fff" stroke="#007fff" stroke-width="0.7"/>
<path d="M215.2,292.2L214.5,294.7L238.6,306.1ZM214.5,294.7L213.9,297.2L238.6,306.1ZM240.2,366.5L254.2,350.4L252.1,348.8Z" fill="#0080ff" stroke="#0080ff" stroke-width="0.7"/>
<path d="M213.4,299.8L213,302.4L237.3,308.4ZM213,302.4L236.3,310.8L237.3,308.4ZM238.2,364.8L240.2,366.5L252.1,348.8Z" fill="#0082ff" stroke="#0082ff" stroke-width="0.7"/>
<path d="M213,302.4L212.7,305L236.3,310.8ZM212.7,305L212.5,307.6L236.3,310.8Z" fill="#0083ff" stroke="#0083ff" stroke-width="0.7"/>
<path d="M212.5,307.6L235.5,313.3L236.3,310.8ZM212.5,307.6L212.3,310.2L235.5,313.3ZM212.3,310.2L212.3,312.8L235.5,313.3ZM238.2,364.8L252.1,348.8L250.1,347.2Z" fill="#0084ff" stroke="#0084ff" stroke-width="0.7"/>
<path d="M212.3,315.4L234.8,318.4L235.1,315.8ZM212.3,315.4L212.5,318.1L234.8,318.4ZM212.5,318.1L212.7,320.7L234.8,318.4ZM236.2,363.2L238.2,364.8L250.1,347.2Z" fill="#0086ff" stroke="#0086ff" stroke-width="0.7"/>
<path d="M212.7,320.7L234.8,321L234.8,318.4ZM212.7,320.7L213.1,323.2L234.8,321Z" fill="#0087ff" stroke="#0087ff" stroke-width="0.7"/>
<path d="M213.1,323.2L213.6,325.8L234.8,321ZM213.6,325.8L235,323.6L234.8,321ZM213.6,325.8L214.1,328.4L235,323.6ZM234.2,361.4L236.2,363.2L250.1,347.2Z" fill="#0088ff" stroke="#0088ff" stroke-width="0.7"/>
<path d="M214.8,330.9L215.5,333.4L235.5,326.1ZM215.5,333.4L236.3,328.6L235.5,326.1ZM215.5,333.4L216.4,335.9L236.3,328.6ZM216.4,335.9L217.4,338.3L236.3,328.6ZM217.4,338.3L237.2,331.1L236.3,328.6ZM217.4,338.3L218.5,340.7L237.2,331.1ZM218.5,340.7L238.4,333.4L237.2,331.1ZM234.2,361.4L250.1,347.2L248.2,345.4Z" fill="#008aff" stroke="#008aff" stroke-width="0.7"/>
<path d="M218.5,340.7L219.8,343L238.4,333.4ZM219.8,343L221.1,345.2L238.4,333.4ZM221.1,345.2L239.7,335.6L238.4,333.4ZM221.1,345.2L222.5,347.4L239.7,335.6ZM222.5,347.4L241.2,337.8L239.7,335.6ZM222.5,347.4L224,349.6L241.2,337.8ZM224,349.6L225.5,351.7L241.2,337.8ZM225.5,351.7L242.8,339.8L241.2,337.8ZM225.5,351.7L227.1,353.8L242.8,339.8ZM227.1,353.8L244.5,341.8L242.8,339.8Z" fill="#008bff" stroke="#008bff" stroke-width="0.7"/>
<path d="M227.1,353.8L228.8,355.8L244.5,341.8ZM228.8,355.8L230.5,357.7L244.5,341.8ZM230.5,357.7L246.3,343.6L244.5,341.8ZM230.5,357.7L232.4,359.6L246.3,343.6ZM232.4,359.6L248.2,345.4L246.3,343.6ZM232.4,359.6L234.2,361.4L248.2,345.4Z" fill="#008cff" stroke="#008cff" stroke-width="0.7"/>
<path d="M242.3,368L256.4,351.9L254.2,350.4Z" fill="#007cff" stroke="#007cff" stroke-width="0.7"/>
<path d="M242.3,368L244.5,369.5L256.4,351.9Z" fill="#007aff" stroke="#007aff" stroke-width="0.7"/>
<path d="M244.5,369.5L246.7,370.9L256.4,351.9Z" fill="#0078ff" stroke="#0078ff" stroke-width="0.7"/>
<path d="M246.7,370.9L258.6,353.2L256.4,351.9Z" fill="#0085fe" stroke="#0085fe" stroke-width="0.7"/>
<path d="M246.7,370.9L248.9,372.3L258.6,353.2Z" fill="#0093fd" stroke="#0093fd" stroke-width="0.7"/>
<path d="M248.9,372.3L260.9,354.4L258.6,353.2Z" fill="#00a0fc" stroke="#00a0fc" stroke-width="0.7"/>
<path d="M248.9,372.3L251.2,373.5L260.9,354.4Z" fill="#00adfc" stroke="#00adfc" stroke-width="0.7"/>
<path d="M251.2,373.5L253.6,374.6L260.9,354.4Z" fill="#00bbfb" stroke="#00bbfb" stroke-width="0.7"/>
<path d="M253.6,374.6L263.3,355.5L260.9,354.4Z" fill="#00c8fa" stroke="#00c8fa" stroke-width="0.7"/>
<path d="M253.6,374.6L256,375.7L263.3,355.5Z" fill="#00d6f7" stroke="#00d6f7" stroke-width="0.7"/>
<path d="M256,375.7L265.7,356.4L263.3,355.5Z" fill="#00e3f3" stroke="#00e3f3" stroke-width="0.7"/>
<path d="M256,375.7L258.4,376.6L265.7,356.4Z" fill="#00f1f0" stroke="#00f1f0" stroke-width="0.7"/>
<path d="M258.4,376.6L268.1,357.4L265.7,356.4ZM258.4,376.6L260.9,377.6L268.1,357.4ZM260.9,377.6L270.6,358.2L268.1,357.4ZM260.9,377.6L263.3,378.5L270.6,358.2ZM263.3,378.5L273,359.1L270.6,358.2ZM263.3,378.5L265.8,379.4L273,359.1ZM265.8,379.4L275.5,360L273,359.1ZM265.8,379.4L268.2,380.3L275.5,360ZM268.2,380.3L277.9,360.8L275.5,360ZM268.2,380.3L270.7,381.2L277.9,360.8ZM270.7,381.2L273.1,382.1L277.9,360.8ZM273.1,382.1L280.4,361.6L277.9,360.8ZM273.1,382.1L275.6,382.8L280.4,361.6ZM275.6,382.8L282.9,362.4L280.4,361.6ZM275.6,382.8L278.2,383.6L282.9,362.4ZM278.2,383.6L285.4,363.2L282.9,362.4ZM278.2,383.6L280.6,384.5L285.4,363.2ZM280.6,384.5L287.9,363.9L285.4,363.2ZM280.6,384.5L290.3,364.7L287.9,363.9ZM280.6,384.5L283,385.6L290.3,364.7ZM283,385.6L292.8,365.6L290.3,364.7ZM283,385.6L295.2,366.6L292.8,365.6ZM283,385.6L285,387.2L295.2,366.6ZM285,387.2L297.5,367.7L295.2,366.6ZM285,387.2L299.8,369L297.5,367.7ZM285,387.2L302,370.4L299.8,369ZM285,387.2L286.7,389.2L302,370.4ZM286.7,389.2L304.1,371.9L302,370.4ZM286.7,389.2L306.2,373.4L304.1,371.9ZM286.7,389.2L288.2,391.4L306.2,373.4ZM288.2,391.4L308.3,375L306.2,373.4ZM288.2,391.4L289.5,393.6L308.3,375ZM289.5,393.6L310.2,376.7L308.3,375ZM289.5,393.6L312,378.6L310.2,376.7ZM289.5,393.6L313.5,380.7L312,378.6ZM289.5,393.6L314.6,383.1L313.5,380.7ZM289.5,393.6L290.8,395.9L314.6,383.1ZM290.8,395.9L315.4,385.6L314.6,383.1ZM290.8,395.9L315.9,388.1L315.4,385.6ZM290.8,395.9L316.2,390.7L315.9,388.1ZM290.8,395.9L316.4,393.3L316.2,390.7ZM290.8,395.9L316.5,395.9L316.4,393.3Z" fill="#00ffec" stroke="#00ffec" stroke-width="0.7"/>
<g clip-path="url(#trapclip)"><path d="M308.5,309.9L306.4,308.3L304.4,306.6L302.4,305L300.3,303.3L298.3,301.7L296.3,300L294.3,298.4L292.2,296.8L290.2,295.1L288.1,293.5L286,291.9L283.9,290.4L281.8,288.9L279.6,287.4L277.5,285.9L275.3,284.5L273.1,283.1L270.8,281.8L268.5,280.5L266.2,279.2L263.9,278L261.6,276.9" fill="none" stroke="#0087ff" stroke-width="8" stroke-linecap="butt" stroke-linejoin="round" opacity="0.8" filter="url(#p4gc)"/></g>
<g clip-path="url(#trapclip)"><path d="M273.1,283.1L270.8,281.8L268.5,280.5L266.2,279.2L263.9,278L261.6,276.9L259.1,275.9L256.6,275.2L254.1,274.6L251.5,274.3L248.9,274L246.3,273.8L243.7,273.6L241.1,273.6L238.4,273.8L235.9,274.3L233.3,274.9L230.8,275.7L228.4,276.7L226.1,277.9L224,279.5L222.1,281.2L220.3,283.1" fill="none" stroke="#0014fa" stroke-width="11" stroke-linecap="butt" stroke-linejoin="round" opacity="1.0" filter="url(#p4ga)"/></g>
<path d="M262,268L530,268L530,362L335,361L300,353L270,336L250,318L246,290Z" fill="url(#p4b)"/>
<rect x="405" y="324" width="66" height="66" fill="url(#p4o1)"/>
<rect x="367" y="347" width="20" height="20" fill="url(#p4o2)"/>
<circle cx="253" cy="362.8" r="6.6" fill="url(#p4d1)"/>
<rect x="242.9" y="345.8" width="11.2" height="11.2" fill="url(#p4d2)"/>
<path d="M457,316.3C447,322 433,329 412,331.6" fill="none" stroke="#fff" stroke-width="1" opacity="0.35"/>
</g></g></g>
<g opacity="0.999">
<text x="7.2" y="99.8" class="lg">Pressure</text>
<rect x="6.8" y="108.6" width="16.2" height="215.6" fill="url(#bar)"/>
<rect x="7.1" y="108.9" width="15.6" height="215.1" fill="none" stroke="#1c1c1c" stroke-width="0.9" opacity="0.8"/>
<text x="29.6" y="121.6" class="lg">1612.92</text>
<text x="29.6" y="133.1" class="lg">1481.26</text>
<text x="29.6" y="144.7" class="lg">1349.61</text>
<text x="29.6" y="156.2" class="lg">1217.95</text>
<text x="29.6" y="167.7" class="lg">1086.29</text>
<text x="29.6" y="179.3" class="lg">954.63</text>
<text x="29.6" y="190.8" class="lg">822.97</text>
<text x="29.6" y="202.3" class="lg">691.32</text>
<text x="29.6" y="213.9" class="lg">559.66</text>
<text x="29.6" y="225.4" class="lg">428.00</text>
<text x="29.6" y="236.9" class="lg">296.34</text>
<text x="29.6" y="248.5" class="lg">164.68</text>
<text x="29.6" y="260" class="lg">33.03</text>
<text x="29.6" y="271.5" class="lg">-98.63</text>
<text x="29.6" y="283.1" class="lg">-230.29</text>
<text x="29.6" y="294.6" class="lg">-361.95</text>
<text x="29.6" y="306.1" class="lg">-493.60</text>
<text x="29.6" y="317.7" class="lg">-625.26</text>
<text x="29.6" y="329.2" class="lg">-756.92</text>
<path d="M23.6,116.3h1.5M23.6,127.8h1.5M23.6,139.4h1.5M23.6,150.9h1.5M23.6,162.4h1.5M23.6,174h1.5M23.6,185.5h1.5M23.6,197h1.5M23.6,208.6h1.5M23.6,220.1h1.5M23.6,231.6h1.5M23.6,243.2h1.5M23.6,254.7h1.5M23.6,266.2h1.5M23.6,277.8h1.5M23.6,289.3h1.5M23.6,300.8h1.5M23.6,312.4h1.5M23.6,323.9h1.5" stroke="#334" stroke-width="0.9" opacity="0.6"/>
<text x="7.2" y="345.4" class="lg">[Pa]</text>
<text x="562.6" y="52.3" class="ts">Timestep = 1300</text>
<g><path d="M613.5,375.9V352" stroke="#1c551c" stroke-width="1.3"/><path d="M613.5,348l2.6,5.8h-5.2z" fill="#257a25"/><path d="M613.5,375.9H636" stroke="#8c1c1c" stroke-width="2.1"/><path d="M641.6,375.9l-6.6,-2.4v4.8z" fill="#c01818"/><circle cx="613.5" cy="375.9" r="2.7" fill="#10108c"/><circle cx="627.9" cy="361.4" r="2.7" fill="#19b9b4"/><circle cx="627.2" cy="360.7" r="1" fill="#6fe6e0"/><text x="613.9" y="343.8" class="ax" fill="#2a552a" style="font-size:7px">Y</text><text x="648.3" y="378.2" class="ax" fill="#a03030">X</text></g>
</g>
</g>
<g transform="translate(-2.4,828)">
<g filter="url(#soft)" transform="translate(0,0.6)"><g clip-path="url(#shape)">
<g opacity="0.999">
<rect x="100" y="0" width="460" height="410" fill="#ffdc00"/>
<path d="M360.5,331.4L357.9,355.6L360.5,355.6ZM360.5,331.4L357.9,331.2L357.9,355.6ZM357.9,331.2L355.3,355.6L357.9,355.6ZM325.5,322L310.6,344.6L313,345.7ZM325.5,322L323.3,320.6L310.6,344.6ZM323.3,320.6L308.3,343.4L310.6,344.6ZM286.7,389.2L288.2,391.4L306.2,373.4Z" fill="#ffdc00" stroke="#ffdc00" stroke-width="0.7"/>
<path d="M357.9,331.2L355.3,331L355.3,355.6ZM355.3,331L352.7,355.6L355.3,355.6ZM355.3,331L352.7,330.8L352.7,355.6ZM352.7,330.8L350.1,355.6L352.7,355.6ZM352.7,330.8L350.1,330.5L350.1,355.6ZM330.1,324.5L327.8,323.3L317.7,347.9ZM327.8,323.3L315.3,346.8L317.7,347.9ZM327.8,323.3L325.5,322L315.3,346.8ZM325.5,322L313,345.7L315.3,346.8Z" fill="#ffdb00" stroke="#ffdb00" stroke-width="0.7"/>
<path d="M350.1,330.5L347.5,355.6L350.1,355.6ZM350.1,330.5L347.5,330.1L347.5,355.6ZM347.5,330.1L344.9,355.6L347.5,355.6ZM347.5,330.1L344.9,329.6L344.9,355.6ZM344.9,329.6L342.3,355.6L344.9,355.6ZM332.5,325.6L320,349L322.4,350ZM332.5,325.6L330.1,324.5L320,349ZM330.1,324.5L317.7,347.9L320,349ZM286.7,389.2L306.2,373.4L304.1,371.9Z" fill="#ffda00" stroke="#ffda00" stroke-width="0.7"/>
<path d="M344.9,329.6L339.7,355.6L342.3,355.6ZM344.9,329.6L342.4,329L339.7,355.6ZM342.4,329L337.1,355.2L339.7,355.6ZM342.4,329L334.7,354.5L337.1,355.2ZM342.4,329L332.2,353.7L334.7,354.5ZM337.4,327.5L334.9,326.6L327.3,351.9ZM334.9,326.6L324.8,351L327.3,351.9ZM334.9,326.6L332.5,325.6L324.8,351ZM332.5,325.6L322.4,350L324.8,351ZM286.7,389.2L304.1,371.9L302,370.4Z" fill="#ffd900" stroke="#ffd900" stroke-width="0.7"/>
<path d="M342.4,329L339.9,328.3L332.2,353.7ZM339.9,328.3L329.7,352.8L332.2,353.7ZM339.9,328.3L337.4,327.5L329.7,352.8ZM337.4,327.5L327.3,351.9L329.7,352.8ZM285,387.2L286.7,389.2L302,370.4Z" fill="#ffd800" stroke="#ffd800" stroke-width="0.7"/>
<path d="M323.3,320.6L321.1,319.2L308.3,343.4ZM321.1,319.2L306,342.2L308.3,343.4ZM321.1,319.2L318.9,317.8L306,342.2ZM318.9,317.8L303.7,340.9L306,342.2ZM288.2,391.4L308.3,375L306.2,373.4Z" fill="#ffdd00" stroke="#ffdd00" stroke-width="0.7"/>
<path d="M318.9,317.8L316.8,316.2L303.7,340.9ZM316.8,316.2L301.5,339.6L303.7,340.9ZM288.2,391.4L289.5,393.6L308.3,375ZM289.5,393.6L310.2,376.7L308.3,375Z" fill="#ffde00" stroke="#ffde00" stroke-width="0.7"/>
<path d="M316.8,316.2L299.3,338.2L301.5,339.6Z" fill="#fedf00" stroke="#fedf00" stroke-width="0.7"/>
<path d="M316.8,316.2L314.7,314.7L299.3,338.2Z" fill="#fde000" stroke="#fde000" stroke-width="0.7"/>
<path d="M314.7,314.7L297.1,336.8L299.3,338.2Z" fill="#fce100" stroke="#fce100" stroke-width="0.7"/>
<path d="M314.7,314.7L312.6,313.1L297.1,336.8Z" fill="#fbe200" stroke="#fbe200" stroke-width="0.7"/>
<path d="M312.6,313.1L294.9,335.4L297.1,336.8ZM312.6,313.1L310.5,311.5L294.9,335.4Z" fill="#fae300" stroke="#fae300" stroke-width="0.7"/>
<path d="M310.5,311.5L292.7,334L294.9,335.4Z" fill="#f9e400" stroke="#f9e400" stroke-width="0.7"/>
<path d="M310.5,311.5L308.5,309.9L292.7,334Z" fill="#f8e500" stroke="#f8e500" stroke-width="0.7"/>
<path d="M308.5,309.9L290.6,332.5L292.7,334Z" fill="#f7e600" stroke="#f7e600" stroke-width="0.7"/>
<path d="M308.5,309.9L306.4,308.3L290.6,332.5Z" fill="#f6e700" stroke="#f6e700" stroke-width="0.7"/>
<path d="M306.4,308.3L288.5,331L290.6,332.5Z" fill="#f5e800" stroke="#f5e800" stroke-width="0.7"/>
<path d="M306.4,308.3L304.4,306.6L288.5,331Z" fill="#ecea00" stroke="#ecea00" stroke-width="0.7"/>
<path d="M304.4,306.6L286.4,329.4L288.5,331Z" fill="#e2ec00" stroke="#e2ec00" stroke-width="0.7"/>
<path d="M304.4,306.6L284.4,327.8L286.4,329.4Z" fill="#d9ee00" stroke="#d9ee00" stroke-width="0.7"/>
<path d="M304.4,306.6L302.4,305L284.4,327.8Z" fill="#d0f000" stroke="#d0f000" stroke-width="0.7"/>
<path d="M302.4,305L282.3,326.2L284.4,327.8Z" fill="#c6f200" stroke="#c6f200" stroke-width="0.7"/>
<path d="M302.4,305L300.3,303.3L282.3,326.2Z" fill="#bdf400" stroke="#bdf400" stroke-width="0.7"/>
<path d="M300.3,303.3L280.3,324.5L282.3,326.2Z" fill="#b3f600" stroke="#b3f600" stroke-width="0.7"/>
<path d="M300.3,303.3L298.3,301.7L280.3,324.5Z" fill="#aaf800" stroke="#aaf800" stroke-width="0.7"/>
<path d="M298.3,301.7L278.4,322.8L280.3,324.5Z" fill="#9ff900" stroke="#9ff900" stroke-width="0.7"/>
<path d="M298.3,301.7L296.3,300L278.4,322.8Z" fill="#94f900" stroke="#94f900" stroke-width="0.7"/>
<path d="M296.3,300L276.5,321L278.4,322.8Z" fill="#89fa00" stroke="#89fa00" stroke-width="0.7"/>
<path d="M296.3,300L294.3,298.4L276.5,321Z" fill="#7ffa00" stroke="#7ffa00" stroke-width="0.7"/>
<path d="M294.3,298.4L274.7,319.2L276.5,321Z" fill="#74fb00" stroke="#74fb00" stroke-width="0.7"/>
<path d="M294.3,298.4L292.2,296.8L274.7,319.2Z" fill="#69fb00" stroke="#69fb00" stroke-width="0.7"/>
<path d="M292.2,296.8L272.8,317.3L274.7,319.2Z" fill="#5efc00" stroke="#5efc00" stroke-width="0.7"/>
<path d="M292.2,296.8L290.2,295.1L272.8,317.3Z" fill="#53fd00" stroke="#53fd00" stroke-width="0.7"/>
<path d="M290.2,295.1L271,315.5L272.8,317.3Z" fill="#48fd00" stroke="#48fd00" stroke-width="0.7"/>
<path d="M290.2,295.1L288.1,293.5L271,315.5Z" fill="#3efe00" stroke="#3efe00" stroke-width="0.7"/>
<path d="M288.1,293.5L269.1,313.6L271,315.5Z" fill="#33fe00" stroke="#33fe00" stroke-width="0.7"/>
<path d="M288.1,293.5L286,291.9L269.1,313.6Z" fill="#28ff00" stroke="#28ff00" stroke-width="0.7"/>
<path d="M286,291.9L267.3,311.8L269.1,313.6Z" fill="#24ff05" stroke="#24ff05" stroke-width="0.7"/>
<path d="M286,291.9L283.9,290.4L267.3,311.8Z" fill="#21ff09" stroke="#21ff09" stroke-width="0.7"/>
<path d="M283.9,290.4L265.4,310L267.3,311.8Z" fill="#1dff0e" stroke="#1dff0e" stroke-width="0.7"/>
<path d="M283.9,290.4L281.8,288.9L265.4,310Z" fill="#19ff12" stroke="#19ff12" stroke-width="0.7"/>
<path d="M281.8,288.9L263.6,308.2L265.4,310Z" fill="#16ff17" stroke="#16ff17" stroke-width="0.7"/>
<path d="M281.8,288.9L279.6,287.4L263.6,308.2Z" fill="#12ff1b" stroke="#12ff1b" stroke-width="0.7"/>
<path d="M279.6,287.4L277.5,285.9L263.6,308.2Z" fill="#0fff20" stroke="#0fff20" stroke-width="0.7"/>
<path d="M277.5,285.9L261.6,306.5L263.6,308.2Z" fill="#0bff24" stroke="#0bff24" stroke-width="0.7"/>
<path d="M277.5,285.9L275.3,284.5L261.6,306.5Z" fill="#07ff29" stroke="#07ff29" stroke-width="0.7"/>
<path d="M275.3,284.5L259.5,305L261.6,306.5Z" fill="#04ff2d" stroke="#04ff2d" stroke-width="0.7"/>
<path d="M275.3,284.5L273.1,283.1L259.5,305Z" fill="#00ff32" stroke="#00ff32" stroke-width="0.7"/>
<path d="M273.1,283.1L270.8,281.8L259.5,305Z" fill="#00ff3d" stroke="#00ff3d" stroke-width="0.7"/>
<path d="M270.8,281.8L257.2,303.7L259.5,305Z" fill="#00ff48" stroke="#00ff48" stroke-width="0.7"/>
<path d="M270.8,281.8L268.5,280.5L257.2,303.7Z" fill="#00ff53" stroke="#00ff53" stroke-width="0.7"/>
<path d="M268.5,280.5L254.9,302.6L257.2,303.7Z" fill="#00ff5e" stroke="#00ff5e" stroke-width="0.7"/>
<path d="M268.5,280.5L266.2,279.2L254.9,302.6Z" fill="#00ff6a" stroke="#00ff6a" stroke-width="0.7"/>
<path d="M266.2,279.2L263.9,278L254.9,302.6Z" fill="#00ff75" stroke="#00ff75" stroke-width="0.7"/>
<path d="M263.9,278L252.4,301.7L254.9,302.6Z" fill="#00ff80" stroke="#00ff80" stroke-width="0.7"/>
<path d="M263.9,278L261.6,276.9L252.4,301.7Z" fill="#00ff8b" stroke="#00ff8b" stroke-width="0.7"/>
<path d="M261.6,276.9L259.1,275.9L252.4,301.7ZM213.6,325.8L214.1,328.4L235,323.6Z" fill="#00ff96" stroke="#00ff96" stroke-width="0.7"/>
<path d="M259.1,275.9L249.9,301.1L252.4,301.7Z" fill="#00ff9b" stroke="#00ff9b" stroke-width="0.7"/>
<path d="M259.1,275.9L256.6,275.2L249.9,301.1Z" fill="#00ffa0" stroke="#00ffa0" stroke-width="0.7"/>
<path d="M256.6,275.2L254.1,274.6L249.9,301.1Z" fill="#00ffa5" stroke="#00ffa5" stroke-width="0.7"/>
<path d="M254.1,274.6L251.5,274.3L249.9,301.1ZM212.5,318.1L212.7,320.7L234.8,318.4Z" fill="#00ffaa" stroke="#00ffaa" stroke-width="0.7"/>
<path d="M251.5,274.3L247.3,301.1L249.9,301.1Z" fill="#00ffaf" stroke="#00ffaf" stroke-width="0.7"/>
<path d="M251.5,274.3L248.9,274L247.3,301.1Z" fill="#00ffb4" stroke="#00ffb4" stroke-width="0.7"/>
<path d="M248.9,274L246.3,273.8L247.3,301.1Z" fill="#00ffb9" stroke="#00ffb9" stroke-width="0.7"/>
<path d="M246.3,273.8L243.7,273.6L247.3,301.1ZM212.3,310.2L212.3,312.8L235.5,313.3Z" fill="#00ffbe" stroke="#00ffbe" stroke-width="0.7"/>
<path d="M243.7,273.6L244.7,301.6L247.3,301.1Z" fill="#00ffc3" stroke="#00ffc3" stroke-width="0.7"/>
<path d="M243.7,273.6L241.1,273.6L244.7,301.6Z" fill="#00ffc4" stroke="#00ffc4" stroke-width="0.7"/>
<path d="M241.1,273.6L238.4,273.8L244.7,301.6Z" fill="#00ffc5" stroke="#00ffc5" stroke-width="0.7"/>
<path d="M238.4,273.8L235.9,274.3L244.7,301.6ZM213.4,299.8L213,302.4L237.3,308.4Z" fill="#00fec7" stroke="#00fec7" stroke-width="0.7"/>
<path d="M235.9,274.3L233.3,274.9L244.7,301.6Z" fill="#00fec8" stroke="#00fec8" stroke-width="0.7"/>
<path d="M233.3,274.9L242.4,302.6L244.7,301.6Z" fill="#00fec9" stroke="#00fec9" stroke-width="0.7"/>
<path d="M233.3,274.9L230.8,275.7L242.4,302.6Z" fill="#00feca" stroke="#00feca" stroke-width="0.7"/>
<path d="M230.8,275.7L228.4,276.7L242.4,302.6Z" fill="#00fecb" stroke="#00fecb" stroke-width="0.7"/>
<path d="M228.4,276.7L226.1,277.9L242.4,302.6Z" fill="#00fdcd" stroke="#00fdcd" stroke-width="0.7"/>
<path d="M226.1,277.9L224,279.5L242.4,302.6ZM215.2,292.2L214.5,294.7L238.6,306.1Z" fill="#00fdce" stroke="#00fdce" stroke-width="0.7"/>
<path d="M224,279.5L222.1,281.2L242.4,302.6ZM216.2,289.8L215.2,292.2L238.6,306.1Z" fill="#00fdcf" stroke="#00fdcf" stroke-width="0.7"/>
<path d="M222.1,281.2L240.3,304.1L242.4,302.6Z" fill="#00fdd0" stroke="#00fdd0" stroke-width="0.7"/>
<path d="M222.1,281.2L220.3,283.1L240.3,304.1ZM217.3,287.4L216.2,289.8L240.3,304.1Z" fill="#00fcd2" stroke="#00fcd2" stroke-width="0.7"/>
<path d="M220.3,283.1L218.7,285.2L240.3,304.1Z" fill="#00fcd3" stroke="#00fcd3" stroke-width="0.7"/>
<path d="M218.7,285.2L217.3,287.4L240.3,304.1Z" fill="#00fcd4" stroke="#00fcd4" stroke-width="0.7"/>
<path d="M216.2,289.8L238.6,306.1L240.3,304.1Z" fill="#00fcd1" stroke="#00fcd1" stroke-width="0.7"/>
<path d="M214.5,294.7L213.9,297.2L238.6,306.1Z" fill="#00fdcc" stroke="#00fdcc" stroke-width="0.7"/>
<path d="M213.9,297.2L237.3,308.4L238.6,306.1Z" fill="#00fdcb" stroke="#00fdcb" stroke-width="0.7"/>
<path d="M213.9,297.2L213.4,299.8L237.3,308.4Z" fill="#00fdc9" stroke="#00fdc9" stroke-width="0.7"/>
<path d="M213,302.4L236.3,310.8L237.3,308.4Z" fill="#00fec6" stroke="#00fec6" stroke-width="0.7"/>
<path d="M213,302.4L212.7,305L236.3,310.8Z" fill="#00fec4" stroke="#00fec4" stroke-width="0.7"/>
<path d="M212.7,305L212.5,307.6L236.3,310.8Z" fill="#00fec3" stroke="#00fec3" stroke-width="0.7"/>
<path d="M212.5,307.6L235.5,313.3L236.3,310.8Z" fill="#00ffc1" stroke="#00ffc1" stroke-width="0.7"/>
<path d="M212.5,307.6L212.3,310.2L235.5,313.3Z" fill="#00ffc0" stroke="#00ffc0" stroke-width="0.7"/>
<path d="M212.3,312.8L235.1,315.8L235.5,313.3Z" fill="#00ffba" stroke="#00ffba" stroke-width="0.7"/>
<path d="M212.3,312.8L212.3,315.4L235.1,315.8Z" fill="#00ffb6" stroke="#00ffb6" stroke-width="0.7"/>
<path d="M212.3,315.4L234.8,318.4L235.1,315.8Z" fill="#00ffb2" stroke="#00ffb2" stroke-width="0.7"/>
<path d="M212.3,315.4L212.5,318.1L234.8,318.4Z" fill="#00ffae" stroke="#00ffae" stroke-width="0.7"/>
<path d="M212.7,320.7L234.8,321L234.8,318.4Z" fill="#00ffa6" stroke="#00ffa6" stroke-width="0.7"/>
<path d="M212.7,320.7L213.1,323.2L234.8,321Z" fill="#00ffa2" stroke="#00ffa2" stroke-width="0.7"/>
<path d="M213.1,323.2L213.6,325.8L234.8,321Z" fill="#00ff9e" stroke="#00ff9e" stroke-width="0.7"/>
<path d="M213.6,325.8L235,323.6L234.8,321Z" fill="#00ff9a" stroke="#00ff9a" stroke-width="0.7"/>
<path d="M214.1,328.4L235.5,326.1L235,323.6Z" fill="#09ff81" stroke="#09ff81" stroke-width="0.7"/>
<path d="M214.1,328.4L214.8,330.9L235.5,326.1Z" fill="#11ff6b" stroke="#11ff6b" stroke-width="0.7"/>
<path d="M214.8,330.9L215.5,333.4L235.5,326.1Z" fill="#1aff56" stroke="#1aff56" stroke-width="0.7"/>
<path d="M215.5,333.4L236.3,328.6L235.5,326.1Z" fill="#22ff40" stroke="#22ff40" stroke-width="0.7"/>
<path d="M215.5,333.4L216.4,335.9L236.3,328.6Z" fill="#2bff2b" stroke="#2bff2b" stroke-width="0.7"/>
<path d="M216.4,335.9L217.4,338.3L236.3,328.6Z" fill="#33ff15" stroke="#33ff15" stroke-width="0.7"/>
<path d="M217.4,338.3L237.2,331.1L236.3,328.6Z" fill="#3cff00" stroke="#3cff00" stroke-width="0.7"/>
<path d="M217.4,338.3L218.5,340.7L237.2,331.1Z" fill="#53fe00" stroke="#53fe00" stroke-width="0.7"/>
<path d="M218.5,340.7L238.4,333.4L237.2,331.1Z" fill="#6bfd00" stroke="#6bfd00" stroke-width="0.7"/>
<path d="M218.5,340.7L219.8,343L238.4,333.4Z" fill="#82fd00" stroke="#82fd00" stroke-width="0.7"/>
<path d="M219.8,343L221.1,345.2L238.4,333.4Z" fill="#99fc00" stroke="#99fc00" stroke-width="0.7"/>
<path d="M221.1,345.2L239.7,335.6L238.4,333.4Z" fill="#b1fb00" stroke="#b1fb00" stroke-width="0.7"/>
<path d="M221.1,345.2L222.5,347.4L239.7,335.6Z" fill="#c8fa00" stroke="#c8fa00" stroke-width="0.7"/>
<path d="M222.5,347.4L241.2,337.8L239.7,335.6Z" fill="#d3f600" stroke="#d3f600" stroke-width="0.7"/>
<path d="M222.5,347.4L224,349.6L241.2,337.8Z" fill="#def300" stroke="#def300" stroke-width="0.7"/>
<path d="M224,349.6L225.5,351.7L241.2,337.8Z" fill="#eaef00" stroke="#eaef00" stroke-width="0.7"/>
<path d="M225.5,351.7L242.8,339.8L241.2,337.8Z" fill="#f5eb00" stroke="#f5eb00" stroke-width="0.7"/>
<path d="M225.5,351.7L227.1,353.8L242.8,339.8Z" fill="#f6e800" stroke="#f6e800" stroke-width="0.7"/>
<path d="M227.1,353.8L244.5,341.8L242.8,339.8Z" fill="#f8e400" stroke="#f8e400" stroke-width="0.7"/>
<path d="M227.1,353.8L228.8,355.8L244.5,341.8Z" fill="#f9e100" stroke="#f9e100" stroke-width="0.7"/>
<path d="M228.8,355.8L230.5,357.7L244.5,341.8Z" fill="#fbde00" stroke="#fbde00" stroke-width="0.7"/>
<path d="M230.5,357.7L246.3,343.6L244.5,341.8Z" fill="#fcdb00" stroke="#fcdb00" stroke-width="0.7"/>
<path d="M230.5,357.7L232.4,359.6L246.3,343.6Z" fill="#fed700" stroke="#fed700" stroke-width="0.7"/>
<path d="M232.4,359.6L248.2,345.4L246.3,343.6Z" fill="#ffd400" stroke="#ffd400" stroke-width="0.7"/>
<path d="M232.4,359.6L234.2,361.4L248.2,345.4ZM283,385.6L285,387.2L295.2,366.6Z" fill="#ffd300" stroke="#ffd300" stroke-width="0.7"/>
<path d="M234.2,361.4L250.1,347.2L248.2,345.4ZM283,385.6L292.8,365.6L290.3,364.7Z" fill="#ffd100" stroke="#ffd100" stroke-width="0.7"/>
<path d="M234.2,361.4L236.2,363.2L250.1,347.2ZM280.6,384.5L283,385.6L290.3,364.7Z" fill="#ffd000" stroke="#ffd000" stroke-width="0.7"/>
<path d="M236.2,363.2L238.2,364.8L250.1,347.2ZM280.6,384.5L287.9,363.9L285.4,363.2ZM280.6,384.5L290.3,364.7L287.9,363.9Z" fill="#ffcf00" stroke="#ffcf00" stroke-width="0.7"/>
<path d="M238.2,364.8L252.1,348.8L250.1,347.2ZM278.2,383.6L285.4,363.2L282.9,362.4Z" fill="#ffcd00" stroke="#ffcd00" stroke-width="0.7"/>
<path d="M238.2,364.8L240.2,366.5L252.1,348.8ZM275.6,382.8L282.9,362.4L280.4,361.6ZM275.6,382.8L278.2,383.6L282.9,362.4Z" fill="#ffcc00" stroke="#ffcc00" stroke-width="0.7"/>
<path d="M240.2,366.5L254.2,350.4L252.1,348.8ZM273.1,382.1L275.6,382.8L280.4,361.6Z" fill="#ffcb00" stroke="#ffcb00" stroke-width="0.7"/>
<path d="M240.2,366.5L242.3,368L254.2,350.4ZM268.2,380.3L270.7,381.2L277.9,360.8Z" fill="#ffc900" stroke="#ffc900" stroke-width="0.7"/>
<path d="M242.3,368L256.4,351.9L254.2,350.4ZM242.3,368L244.5,369.5L256.4,351.9ZM268.2,380.3L277.9,360.8L275.5,360Z" fill="#ffc800" stroke="#ffc800" stroke-width="0.7"/>
<path d="M244.5,369.5L246.7,370.9L256.4,351.9ZM246.7,370.9L258.6,353.2L256.4,351.9ZM265.8,379.4L275.5,360L273,359.1ZM265.8,379.4L268.2,380.3L275.5,360Z" fill="#ffc700" stroke="#ffc700" stroke-width="0.7"/>
<path d="M246.7,370.9L248.9,372.3L258.6,353.2ZM248.9,372.3L260.9,354.4L258.6,353.2ZM248.9,372.3L251.2,373.5L260.9,354.4ZM263.3,378.5L265.8,379.4L273,359.1Z" fill="#ffc600" stroke="#ffc600" stroke-width="0.7"/>
<path d="M251.2,373.5L253.6,374.6L260.9,354.4ZM253.6,374.6L263.3,355.5L260.9,354.4ZM253.6,374.6L256,375.7L263.3,355.5ZM263.3,378.5L273,359.1L270.6,358.2Z" fill="#ffc500" stroke="#ffc500" stroke-width="0.7"/>
<path d="M256,375.7L265.7,356.4L263.3,355.5ZM256,375.7L258.4,376.6L265.7,356.4ZM260.9,377.6L270.6,358.2L268.1,357.4ZM260.9,377.6L263.3,378.5L270.6,358.2Z" fill="#ffc400" stroke="#ffc400" stroke-width="0.7"/>
<path d="M258.4,376.6L268.1,357.4L265.7,356.4ZM258.4,376.6L260.9,377.6L268.1,357.4Z" fill="#ffc300" stroke="#ffc300" stroke-width="0.7"/>
<path d="M270.7,381.2L273.1,382.1L277.9,360.8ZM273.1,382.1L280.4,361.6L277.9,360.8Z" fill="#ffca00" stroke="#ffca00" stroke-width="0.7"/>
<path d="M278.2,383.6L280.6,384.5L285.4,363.2Z" fill="#ffce00" stroke="#ffce00" stroke-width="0.7"/>
<path d="M283,385.6L295.2,366.6L292.8,365.6Z" fill="#ffd200" stroke="#ffd200" stroke-width="0.7"/>
<path d="M285,387.2L297.5,367.7L295.2,366.6Z" fill="#ffd500" stroke="#ffd500" stroke-width="0.7"/>
<path d="M285,387.2L299.8,369L297.5,367.7Z" fill="#ffd600" stroke="#ffd600" stroke-width="0.7"/>
<path d="M285,387.2L302,370.4L299.8,369Z" fill="#ffd700" stroke="#ffd700" stroke-width="0.7"/>
<path d="M289.5,393.6L312,378.6L310.2,376.7ZM289.5,393.6L313.5,380.7L312,378.6ZM289.5,393.6L314.6,383.1L313.5,380.7ZM289.5,393.6L290.8,395.9L314.6,383.1Z" fill="#ffdf00" stroke="#ffdf00" stroke-width="0.7"/>
<path d="M290.8,395.9L315.4,385.6L314.6,383.1ZM290.8,395.9L315.9,388.1L315.4,385.6ZM290.8,395.9L316.2,390.7L315.9,388.1Z" fill="#ffe000" stroke="#ffe000" stroke-width="0.7"/>
<path d="M290.8,395.9L316.4,393.3L316.2,390.7ZM290.8,395.9L316.5,395.9L316.4,393.3Z" fill="#ffe100" stroke="#ffe100" stroke-width="0.7"/>
<path d="M292.7,334L294.9,335.4L297.1,336.8L299.3,338.2L301.5,339.6L303.7,340.9L306,342.2L308.3,343.4L310.6,344.6L313,345.7L315.3,346.8L317.7,347.9L320,349L322.4,350L324.8,351L327.3,351.9L329.7,352.8L332.2,353.7L345,356.5L380,357L420,356.5L462,354" fill="none" stroke="#ff7800" stroke-width="9" stroke-linecap="butt" stroke-linejoin="round" opacity="1.0" filter="url(#p5gb)"/>
<g mask="url(#p5pk2)"><path d="M405,334.5L412,333.5C433,331 447,324 459,316.5L462,362L400,362Z" fill="url(#p5pk)"/></g>
<g clip-path="url(#trapclip)"><path d="M240.2,366.5L242.3,368L244.5,369.5L246.7,370.9L248.9,372.3L251.2,373.5L253.6,374.6L256,375.7L258.4,376.6L260.9,377.6L263.3,378.5L265.8,379.4L268.2,380.3L270.7,381.2L273.1,382.1L275.6,382.8L278.2,383.6" fill="none" stroke="#ff7300" stroke-width="8" stroke-linecap="butt" stroke-linejoin="round" opacity="0.9" filter="url(#p5ga)"/></g>
<g clip-path="url(#trapclip)"><path d="M236.3,328.6L237.2,331.1L238.4,333.4L239.7,335.6L241.2,337.8L242.8,339.8L244.5,341.8L246.3,343.6L248.2,345.4L250.1,347.2L252.1,348.8L254.2,350.4L256.4,351.9L258.6,353.2L260.9,354.4L263.3,355.5L265.7,356.4L268.1,357.4L270.6,358.2" fill="none" stroke="#69fa00" stroke-width="8" stroke-linecap="butt" stroke-linejoin="round" opacity="0.9" filter="url(#p5gi)"/></g>
<rect x="212.8" y="287.8" width="42.5" height="42.5" fill="url(#p5b0)"/>
<rect x="221" y="294.8" width="32.5" height="32.5" fill="url(#p5b1)"/>
<rect x="280.5" y="381.5" width="14" height="14" fill="url(#p5g2)"/>
<path d="M457,316.3C447,322 433,329 412,331.6" fill="none" stroke="#fff" stroke-width="1" opacity="0.25"/>
</g></g></g>
<g opacity="0.999">
<text x="7.2" y="99.8" class="lg">Pressure</text>
<rect x="6.8" y="108.6" width="16.2" height="215.6" fill="url(#bar)"/>
<rect x="7.1" y="108.9" width="15.6" height="215.1" fill="none" stroke="#1c1c1c" stroke-width="0.9" opacity="0.8"/>
<text x="29.6" y="121.6" class="lg">332.49</text>
<text x="29.6" y="133.1" class="lg">227.39</text>
<text x="29.6" y="144.7" class="lg">122.28</text>
<text x="29.6" y="156.2" class="lg">17.17</text>
<text x="29.6" y="167.7" class="lg">-87.94</text>
<text x="29.6" y="179.3" class="lg">-193.04</text>
<text x="29.6" y="190.8" class="lg">-298.15</text>
<text x="29.6" y="202.3" class="lg">-403.26</text>
<text x="29.6" y="213.9" class="lg">-508.36</text>
<text x="29.6" y="225.4" class="lg">-613.47</text>
<text x="29.6" y="236.9" class="lg">-718.58</text>
<text x="29.6" y="248.5" class="lg">-823.68</text>
<text x="29.6" y="260" class="lg">-928.79</text>
<text x="29.6" y="271.5" class="lg">-1033.90</text>
<text x="29.6" y="283.1" class="lg">-1139.00</text>
<text x="29.6" y="294.6" class="lg">-1244.11</text>
<text x="29.6" y="306.1" class="lg">-1349.22</text>
<text x="29.6" y="317.7" class="lg">-1454.32</text>
<text x="29.6" y="329.2" class="lg">-1559.43</text>
<path d="M23.6,116.3h1.5M23.6,127.8h1.5M23.6,139.4h1.5M23.6,150.9h1.5M23.6,162.4h1.5M23.6,174h1.5M23.6,185.5h1.5M23.6,197h1.5M23.6,208.6h1.5M23.6,220.1h1.5M23.6,231.6h1.5M23.6,243.2h1.5M23.6,254.7h1.5M23.6,266.2h1.5M23.6,277.8h1.5M23.6,289.3h1.5M23.6,300.8h1.5M23.6,312.4h1.5M23.6,323.9h1.5" stroke="#334" stroke-width="0.9" opacity="0.6"/>
<text x="7.2" y="345.4" class="lg">[Pa]</text>
<text x="562.6" y="52.3" class="ts">Timestep = 2000</text>
<g><path d="M613.5,375.9V352" stroke="#1c551c" stroke-width="1.3"/><path d="M613.5,348l2.6,5.8h-5.2z" fill="#257a25"/><path d="M613.5,375.9H636" stroke="#8c1c1c" stroke-width="2.1"/><path d="M641.6,375.9l-6.6,-2.4v4.8z" fill="#c01818"/><circle cx="613.5" cy="375.9" r="2.7" fill="#10108c"/><circle cx="627.9" cy="361.4" r="2.7" fill="#19b9b4"/><circle cx="627.2" cy="360.7" r="1" fill="#6fe6e0"/><text x="613.9" y="343.8" class="ax" fill="#2a552a" style="font-size:7px">Y</text><text x="648.3" y="378.2" class="ax" fill="#a03030">X</text></g>
</g>
</g>
<g transform="translate(657,830)">
<g filter="url(#soft)"><g clip-path="url(#shape)">
<g opacity="0.999">
<rect x="100" y="0" width="460" height="410" fill="#0606f8"/>
<g filter="url(#p6bf)"><path d="M298,341.4C300.6,341.2 306.5,340.5 313.5,340.3C320.5,340 329.8,340.1 340,339.8C350.2,339.4 365.8,338.2 375,338.2C384.2,338.2 388.2,339 395,339.8C401.8,340.6 409,342 416,343C423,344 430.2,345 437,345.8C443.8,346.6 452.2,347.3 457,347.8C461.8,348.2 464.5,348.3 466,348.4L466,358.5L298,358.5Z" fill="#023dfd"/><path d="M298,342.1C300.6,342 306.5,341.3 313.5,341C320.5,340.8 329.8,340.9 340,340.5C350.2,340.2 365.8,338.9 375,338.9C384.2,338.9 388.2,339.7 395,340.5C401.8,341.3 409,342.7 416,343.7C423,344.7 430.2,345.7 437,346.5C443.8,347.3 452.2,348.1 457,348.5C461.8,349 464.5,349 466,349.1L466,358.5L298,358.5Z" fill="#0077ff"/><path d="M298,342.9C300.6,342.7 306.5,342.1 313.5,341.8C320.5,341.6 329.8,341.7 340,341.3C350.2,341 365.8,339.7 375,339.7C384.2,339.7 388.2,340.5 395,341.3C401.8,342.1 409,343.5 416,344.5C423,345.5 430.2,346.5 437,347.3C443.8,348.1 452.2,348.9 457,349.3C461.8,349.8 464.5,349.8 466,349.9L466,358.5L298,358.5Z" fill="#00b6ff"/><path d="M298,343.7C300.6,343.5 306.5,342.9 313.5,342.6C320.5,342.3 329.8,342.4 340,342.1C350.2,341.7 365.8,340.5 375,340.5C384.2,340.5 388.2,341.3 395,342.1C401.8,342.9 409,344.3 416,345.3C423,346.3 430.2,347.3 437,348.1C443.8,348.9 452.2,349.7 457,350.1C461.8,350.5 464.5,350.6 466,350.7L466,358.5L298,358.5Z" fill="#00e2f4"/><path d="M298,344.5C300.6,344.3 306.5,343.6 313.5,343.4C320.5,343.1 329.8,343.2 340,342.9C350.2,342.5 365.8,341.3 375,341.3C384.2,341.3 388.2,342.1 395,342.9C401.8,343.7 409,345.1 416,346.1C423,347.1 430.2,348.1 437,348.9C443.8,349.7 452.2,350.4 457,350.9C461.8,351.3 464.5,351.4 466,351.5L466,358.5L298,358.5Z" fill="#00f9dd"/><path d="M298,345.2C300.6,345.1 306.5,344.4 313.5,344.1C320.5,343.9 329.8,344 340,343.6C350.2,343.3 365.8,342 375,342C384.2,342 388.2,342.8 395,343.6C401.8,344.4 409,345.8 416,346.8C423,347.8 430.2,348.8 437,349.6C443.8,350.4 452.2,351.2 457,351.6C461.8,352.1 464.5,352.1 466,352.2L466,358.5L298,358.5Z" fill="#00ffb5"/><path d="M298,346C300.6,345.8 306.5,345.2 313.5,344.9C320.5,344.6 329.8,344.8 340,344.4C350.2,344.1 365.8,342.8 375,342.8C384.2,342.8 388.2,343.6 395,344.4C401.8,345.2 409,346.6 416,347.6C423,348.6 430.2,349.6 437,350.4C443.8,351.2 452.2,352 457,352.4C461.8,352.8 464.5,352.9 466,353L466,358.5L298,358.5Z" fill="#00ff86"/><path d="M298,346.8C300.6,346.6 306.5,345.9 313.5,345.7C320.5,345.4 329.8,345.5 340,345.2C350.2,344.8 365.8,343.6 375,343.6C384.2,343.6 388.2,344.4 395,345.2C401.8,346 409,347.4 416,348.4C423,349.4 430.2,350.4 437,351.2C443.8,352 452.2,352.7 457,353.2C461.8,353.6 464.5,353.7 466,353.8L466,358.5L298,358.5Z" fill="#01ff57"/><path d="M298,347.6C300.6,347.4 306.5,346.7 313.5,346.5C320.5,346.2 329.8,346.3 340,346C350.2,345.6 365.8,344.4 375,344.4C384.2,344.4 388.2,345.2 395,346C401.8,346.8 409,348.2 416,349.2C423,350.2 430.2,351.2 437,352C443.8,352.8 452.2,353.5 457,354C461.8,354.4 464.5,354.5 466,354.6L466,358.5L298,358.5Z" fill="#0fff2e"/><path d="M298,348.3C300.6,348.1 306.5,347.5 313.5,347.2C320.5,347 329.8,347.1 340,346.7C350.2,346.4 365.8,345.1 375,345.1C384.2,345.1 388.2,345.9 395,346.7C401.8,347.5 409,348.9 416,349.9C423,350.9 430.2,351.9 437,352.7C443.8,353.5 452.2,354.3 457,354.7C461.8,355.2 464.5,355.2 466,355.3L466,358.5L298,358.5Z" fill="#1cff05"/><path d="M298,349.1C300.6,348.9 306.5,348.3 313.5,348C320.5,347.7 329.8,347.9 340,347.5C350.2,347.1 365.8,345.9 375,345.9C384.2,345.9 388.2,346.7 395,347.5C401.8,348.3 409,349.7 416,350.7C423,351.7 430.2,352.7 437,353.5C443.8,354.3 452.2,355.1 457,355.5C461.8,355.9 464.5,356 466,356.1L466,358.5L298,358.5Z" fill="#4dff00"/><path d="M298,349.9C300.6,349.7 306.5,349 313.5,348.8C320.5,348.5 329.8,348.6 340,348.3C350.2,347.9 365.8,346.7 375,346.7C384.2,346.7 388.2,347.5 395,348.3C401.8,349.1 409,350.5 416,351.5C423,352.5 430.2,353.5 437,354.3C443.8,355.1 452.2,355.8 457,356.3C461.8,356.7 464.5,356.8 466,356.9L466,358.5L298,358.5Z" fill="#82ff00"/><path d="M298,350.6C300.6,350.5 306.5,349.8 313.5,349.5C320.5,349.3 329.8,349.4 340,349C350.2,348.7 365.8,347.4 375,347.4C384.2,347.4 388.2,348.2 395,349C401.8,349.8 409,351.2 416,352.2C423,353.2 430.2,354.2 437,355C443.8,355.8 452.2,356.6 457,357C461.8,357.5 464.5,357.5 466,357.6L466,358.5L298,358.5Z" fill="#b3fe00"/><path d="M298,351.4C300.6,351.2 306.5,350.6 313.5,350.3C320.5,350.1 329.8,350.2 340,349.8C350.2,349.5 365.8,348.2 375,348.2C384.2,348.2 388.2,349 395,349.8C401.8,350.6 409,352 416,353C423,354 430.2,355 437,355.8C443.8,356.6 452.2,357.4 457,357.8C461.8,358.3 464.5,358.3 466,358.4L466,358.5L298,358.5Z" fill="#daf900"/><path d="M298,352.2C300.6,352 306.5,351.4 313.5,351.1C320.5,350.8 329.8,350.9 340,350.6C350.2,350.2 365.8,349 375,349C384.2,349 388.2,349.8 395,350.6C401.8,351.4 409,352.8 416,353.8C423,354.8 430.2,355.8 437,356.6C443.8,357.4 452.2,358.2 457,358.6C461.8,359 464.5,359.1 466,359.2L466,358.5L298,358.5Z" fill="#fff400"/><path d="M298,353C300.6,352.8 306.5,352.1 313.5,351.9C320.5,351.6 329.8,351.7 340,351.4C350.2,351 365.8,349.8 375,349.8C384.2,349.8 388.2,350.6 395,351.4C401.8,352.2 409,353.6 416,354.6C423,355.6 430.2,356.6 437,357.4C443.8,358.2 452.2,358.9 457,359.4C461.8,359.8 464.5,359.9 466,360L466,358.5L298,358.5Z" fill="#ffd900"/><path d="M298,353.7C300.6,353.6 306.5,352.9 313.5,352.6C320.5,352.4 329.8,352.5 340,352.1C350.2,351.8 365.8,350.5 375,350.5C384.2,350.5 388.2,351.3 395,352.1C401.8,352.9 409,354.3 416,355.3C423,356.3 430.2,357.3 437,358.1C443.8,358.9 452.2,359.7 457,360.1C461.8,360.6 464.5,360.6 466,360.7L466,358.5L298,358.5Z" fill="#ffbf00"/><path d="M298,354.5C300.6,354.3 306.5,353.7 313.5,353.4C320.5,353.1 329.8,353.3 340,352.9C350.2,352.6 365.8,351.3 375,351.3C384.2,351.3 388.2,352.1 395,352.9C401.8,353.7 409,355.1 416,356.1C423,357.1 430.2,358.1 437,358.9C443.8,359.7 452.2,360.5 457,360.9C461.8,361.3 464.5,361.4 466,361.5L466,358.5L298,358.5Z" fill="#ffa100"/><path d="M298,355.3C300.6,355.1 306.5,354.4 313.5,354.2C320.5,353.9 329.8,354 340,353.7C350.2,353.3 365.8,352.1 375,352.1C384.2,352.1 388.2,352.9 395,353.7C401.8,354.5 409,355.9 416,356.9C423,357.9 430.2,358.9 437,359.7C443.8,360.5 452.2,361.2 457,361.7C461.8,362.1 464.5,362.2 466,362.3L466,358.5L298,358.5Z" fill="#ff7f00"/><path d="M298,356.1C300.6,355.9 306.5,355.2 313.5,355C320.5,354.7 329.8,354.8 340,354.5C350.2,354.1 365.8,352.9 375,352.9C384.2,352.9 388.2,353.7 395,354.5C401.8,355.3 409,356.7 416,357.7C423,358.7 430.2,359.7 437,360.5C443.8,361.3 452.2,362 457,362.5C461.8,362.9 464.5,363 466,363.1L466,358.5L298,358.5Z" fill="#ff5e00"/><path d="M298,356.8C300.6,356.6 306.5,356 313.5,355.7C320.5,355.5 329.8,355.6 340,355.2C350.2,354.9 365.8,353.6 375,353.6C384.2,353.6 388.2,354.4 395,355.2C401.8,356 409,357.4 416,358.4C423,359.4 430.2,360.4 437,361.2C443.8,362 452.2,362.8 457,363.2C461.8,363.7 464.5,363.7 466,363.8L466,358.5L298,358.5Z" fill="#ff3e00"/><path d="M298,357.6C300.6,357.4 306.5,356.8 313.5,356.5C320.5,356.2 329.8,356.4 340,356C350.2,355.6 365.8,354.4 375,354.4C384.2,354.4 388.2,355.2 395,356C401.8,356.8 409,358.2 416,359.2C423,360.2 430.2,361.2 437,362C443.8,362.8 452.2,363.6 457,364C461.8,364.4 464.5,364.5 466,364.6L466,358.5L298,358.5Z" fill="#ff1e00"/></g>
<path d="M457,316.3C447,322 433,329 412,331.6" fill="none" stroke="#fff" stroke-width="1" opacity="0.8"/>
</g></g></g>
<g opacity="0.999">
<text x="7.2" y="99.8" class="lg">Pressure</text>
<rect x="6.8" y="108.6" width="16.2" height="215.6" fill="url(#bar)"/>
<rect x="7.1" y="108.9" width="15.6" height="215.1" fill="none" stroke="#1c1c1c" stroke-width="0.9" opacity="0.8"/>
<text x="29.6" y="121.6" class="lg">356.22</text>
<text x="29.6" y="133.1" class="lg">336.37</text>
<text x="29.6" y="144.7" class="lg">316.53</text>
<text x="29.6" y="156.2" class="lg">296.68</text>
<text x="29.6" y="167.7" class="lg">276.84</text>
<text x="29.6" y="179.3" class="lg">257.00</text>
<text x="29.6" y="190.8" class="lg">237.15</text>
<text x="29.6" y="202.3" class="lg">217.31</text>
<text x="29.6" y="213.9" class="lg">197.46</text>
<text x="29.6" y="225.4" class="lg">177.62</text>
<text x="29.6" y="236.9" class="lg">157.78</text>
<text x="29.6" y="248.5" class="lg">137.93</text>
<text x="29.6" y="260" class="lg">118.09</text>
<text x="29.6" y="271.5" class="lg">98.24</text>
<text x="29.6" y="283.1" class="lg">78.40</text>
<text x="29.6" y="294.6" class="lg">58.55</text>
<text x="29.6" y="306.1" class="lg">38.71</text>
<text x="29.6" y="317.7" class="lg">18.87</text>
<text x="29.6" y="329.2" class="lg">-0.98</text>
<path d="M23.6,116.3h1.5M23.6,127.8h1.5M23.6,139.4h1.5M23.6,150.9h1.5M23.6,162.4h1.5M23.6,174h1.5M23.6,185.5h1.5M23.6,197h1.5M23.6,208.6h1.5M23.6,220.1h1.5M23.6,231.6h1.5M23.6,243.2h1.5M23.6,254.7h1.5M23.6,266.2h1.5M23.6,277.8h1.5M23.6,289.3h1.5M23.6,300.8h1.5M23.6,312.4h1.5M23.6,323.9h1.5" stroke="#334" stroke-width="0.9" opacity="0.6"/>
<text x="7.2" y="345.4" class="lg">[Pa]</text>
<text x="562.6" y="52.3" class="ts">Timestep = 3612</text>
<g><path d="M613.5,375.9V352" stroke="#1c551c" stroke-width="1.3"/><path d="M613.5,348l2.6,5.8h-5.2z" fill="#257a25"/><path d="M613.5,375.9H636" stroke="#8c1c1c" stroke-width="2.1"/><path d="M641.6,375.9l-6.6,-2.4v4.8z" fill="#c01818"/><circle cx="613.5" cy="375.9" r="2.7" fill="#10108c"/><circle cx="627.9" cy="361.4" r="2.7" fill="#19b9b4"/><circle cx="627.2" cy="360.7" r="1" fill="#6fe6e0"/><text x="613.9" y="343.8" class="ax" fill="#2a552a" style="font-size:7px">Y</text><text x="648.3" y="378.2" class="ax" fill="#a03030">X</text></g>
</g>
</g>
</svg></body></html>
